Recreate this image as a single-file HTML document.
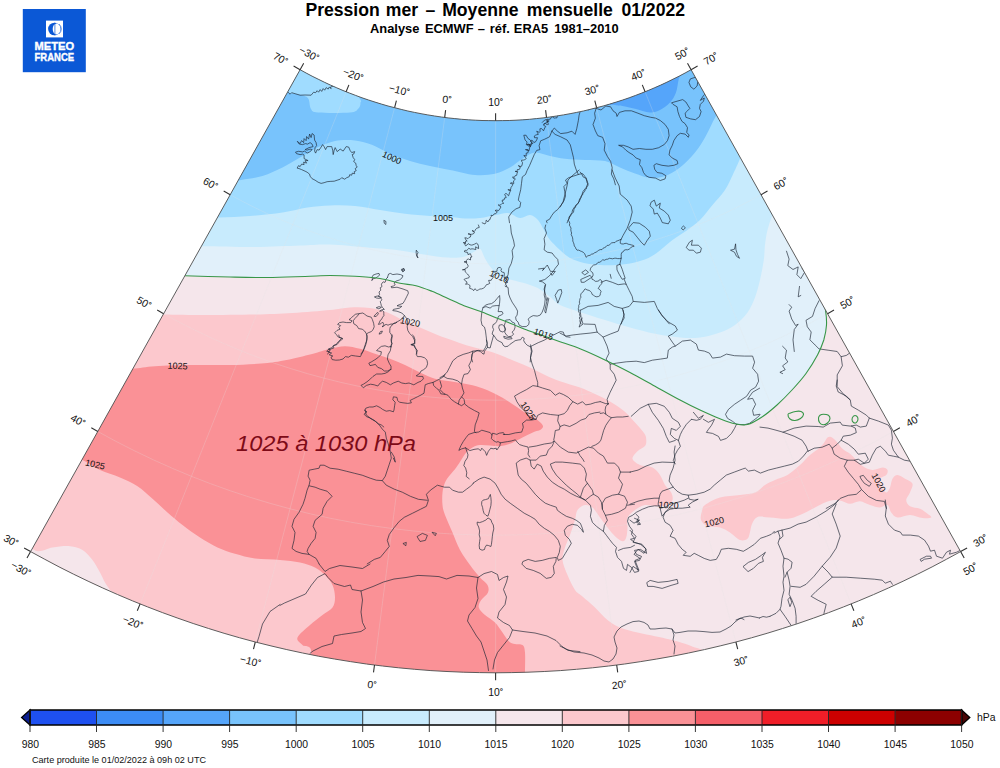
<!DOCTYPE html>
<html lang="fr"><head><meta charset="utf-8"><title>Pression mer – Moyenne mensuelle 01/2022</title>
<style>html,body{margin:0;padding:0;background:#fff}body{width:1000px;height:768px;position:relative;overflow:hidden}</style></head>
<body>
<svg width="1000" height="768" viewBox="0 0 1000 768" style="position:absolute;left:0;top:0">
<defs><clipPath id="fan"><path d="M300.1 69.7 L306.1 73 L312.1 76.2 L318.2 79.2 L324.3 82.2 L330.5 85.1 L336.7 87.8 L343 90.5 L349.3 93 L355.6 95.4 L362 97.8 L368.5 100 L375 102.1 L381.5 104.1 L388 106 L394.6 107.7 L401.2 109.4 L407.8 111 L414.5 112.4 L421.1 113.7 L427.8 114.9 L434.6 116 L441.3 117 L448.1 117.9 L454.8 118.6 L461.6 119.3 L468.4 119.8 L475.2 120.2 L482 120.5 L488.8 120.6 L495.6 120.7 L502.4 120.6 L509.2 120.5 L516 120.2 L522.8 119.8 L529.6 119.3 L536.4 118.6 L543.1 117.9 L549.9 117 L556.6 116 L563.4 114.9 L570.1 113.7 L576.7 112.4 L583.4 111 L590 109.4 L596.6 107.7 L603.2 106 L609.7 104.1 L616.2 102.1 L622.7 100 L629.2 97.8 L635.6 95.4 L641.9 93 L648.2 90.5 L654.5 87.8 L660.7 85.1 L666.9 82.2 L673 79.2 L679.1 76.2 L685.1 73 L691.1 69.7 L960.6 551.6 L946.4 559.3 L932.1 566.9 L917.6 574.2 L903.1 581.2 L888.4 588 L873.5 594.6 L858.6 600.9 L843.6 606.9 L828.5 612.7 L813.3 618.2 L798 623.5 L782.6 628.5 L767.1 633.3 L751.5 637.8 L735.9 642 L720.2 645.9 L704.4 649.6 L688.6 653 L672.7 656.2 L656.8 659 L640.8 661.6 L624.7 664 L608.7 666 L592.6 667.8 L576.5 669.3 L560.3 670.6 L544.2 671.5 L528 672.2 L511.8 672.6 L495.6 672.8 L479.4 672.6 L463.2 672.2 L447 671.5 L430.9 670.6 L414.7 669.3 L398.6 667.8 L382.5 666 L366.5 664 L350.4 661.6 L334.4 659 L318.5 656.2 L302.6 653 L286.8 649.6 L271 645.9 L255.3 642 L239.7 637.8 L224.1 633.3 L208.6 628.5 L193.2 623.5 L177.9 618.2 L162.7 612.7 L147.6 606.9 L132.6 600.9 L117.7 594.6 L102.8 588 L88.1 581.2 L73.6 574.2 L59.1 566.9 L44.8 559.3 L30.6 551.6Z"/></clipPath></defs>
<g clip-path="url(#fan)">
<path d="M300.1 69.7 L306.1 73 L312.1 76.2 L318.2 79.2 L324.3 82.2 L330.5 85.1 L336.7 87.8 L343 90.5 L349.3 93 L355.6 95.4 L362 97.8 L368.5 100 L375 102.1 L381.5 104.1 L388 106 L394.6 107.7 L401.2 109.4 L407.8 111 L414.5 112.4 L421.1 113.7 L427.8 114.9 L434.6 116 L441.3 117 L448.1 117.9 L454.8 118.6 L461.6 119.3 L468.4 119.8 L475.2 120.2 L482 120.5 L488.8 120.6 L495.6 120.7 L502.4 120.6 L509.2 120.5 L516 120.2 L522.8 119.8 L529.6 119.3 L536.4 118.6 L543.1 117.9 L549.9 117 L556.6 116 L563.4 114.9 L570.1 113.7 L576.7 112.4 L583.4 111 L590 109.4 L596.6 107.7 L603.2 106 L609.7 104.1 L616.2 102.1 L622.7 100 L629.2 97.8 L635.6 95.4 L641.9 93 L648.2 90.5 L654.5 87.8 L660.7 85.1 L666.9 82.2 L673 79.2 L679.1 76.2 L685.1 73 L691.1 69.7 L960.6 551.6 L946.4 559.3 L932.1 566.9 L917.6 574.2 L903.1 581.2 L888.4 588 L873.5 594.6 L858.6 600.9 L843.6 606.9 L828.5 612.7 L813.3 618.2 L798 623.5 L782.6 628.5 L767.1 633.3 L751.5 637.8 L735.9 642 L720.2 645.9 L704.4 649.6 L688.6 653 L672.7 656.2 L656.8 659 L640.8 661.6 L624.7 664 L608.7 666 L592.6 667.8 L576.5 669.3 L560.3 670.6 L544.2 671.5 L528 672.2 L511.8 672.6 L495.6 672.8 L479.4 672.6 L463.2 672.2 L447 671.5 L430.9 670.6 L414.7 669.3 L398.6 667.8 L382.5 666 L366.5 664 L350.4 661.6 L334.4 659 L318.5 656.2 L302.6 653 L286.8 649.6 L271 645.9 L255.3 642 L239.7 637.8 L224.1 633.3 L208.6 628.5 L193.2 623.5 L177.9 618.2 L162.7 612.7 L147.6 606.9 L132.6 600.9 L117.7 594.6 L102.8 588 L88.1 581.2 L73.6 574.2 L59.1 566.9 L44.8 559.3 L30.6 551.6Z" fill="#f5e6eb"/>
<path d="M150 274 C159.1 274.3 171.2 275.2 184.5 275.8 C197.8 276.2 216.2 276.7 230 277 C243.8 277.3 255 277.6 267.5 277.5 C280 277.4 294.6 276.8 305 276.5 C315.4 276.2 321.7 275.5 330 275.5 C338.3 275.5 346.7 275.8 355 276.2 C363.3 276.8 372.5 277.3 380 278.5 C387.5 279.7 394 282.1 400 283.3 C406 284.5 410.7 284.4 416 285.7 C421.3 287 426.7 289.2 432 291.3 C437.3 293.4 442.7 296.1 448 298.5 C453.3 300.9 458.7 303.6 464 305.7 C469.3 307.8 474.7 309.3 480 311.3 C485.3 313.3 490.7 315.6 496 317.7 C501.3 319.8 506.7 321.9 512 324 C517.3 326.1 522.7 328.5 528 330.5 C533.3 332.5 538.7 334.1 544 336 C549.3 337.9 554 339.6 560 341.7 C566 343.8 572.5 345.7 580 348.8 C587.5 351.8 596.7 356 605 360 C613.3 364 621.7 368.1 630 372.5 C638.3 376.9 646.7 381.7 655 386.2 C663.3 390.8 672.5 396 680 400 C687.5 404 693.3 406.9 700 410 C706.7 413.1 714.2 416.5 720 418.8 C725.8 421 730.4 422.8 735 423.8 C739.6 424.7 743 425.6 747.5 424.5 C752 423.4 757.1 420.2 762 417 C766.9 413.8 772 409.5 777 405 C782 400.5 787.2 395.2 792 390 C796.8 384.8 801.8 379.3 806 373.5 C810.2 367.7 814.5 360.6 817.5 355 C820.5 349.4 822.2 345 823.8 340 C825.2 335 826.2 330 826.5 325 C826.8 320 826.2 314.8 825.5 310 C824.8 305.2 817.9 300 822 296 C826.1 292 845.3 335.3 850 286 C854.7 236.7 975 47.7 850 0 C725 -47.7 220 -45.7 100 0 C-20 45.7 121.7 228.3 130 274 C138.3 319.7 140.9 273.7 150 274Z" fill="#e1f0fa"/>
<path d="M170 246 C178.8 246 188.3 246.1 202.5 246.2 C216.7 246.4 238.8 247.1 255 247 C271.2 246.9 287.5 245.9 300 245.5 C312.5 245.1 318.8 244.2 330 244.5 C341.2 244.8 355.8 246.5 367.5 247.5 C379.2 248.5 390.6 249.2 400 250.4 C409.4 251.6 416 253.2 424 254.4 C432 255.6 441.3 257.2 448 257.6 C454.7 258 459.7 257.7 464 256.8 C468.3 255.9 471 253.3 473.7 252 C476.4 250.7 478.1 247.7 480 248.8 C481.9 249.9 483.1 255.2 485 258.4 C486.9 261.6 488.9 265.1 491.3 268 C493.7 270.9 495.9 274 499.3 276 C502.8 278 507.7 278.8 512 280 C516.3 281.2 521 282.1 525 283.3 C529 284.5 532.8 285.9 536 287.3 C539.2 288.8 541.3 290.1 544 292 C546.7 293.9 549.3 296.3 552 298.5 C554.7 300.7 555.8 302.9 560 305 C564.2 307.1 570 308.8 577.5 311.2 C585 313.8 596.2 317.3 605 320 C613.8 322.7 621.7 325.2 630 327.5 C638.3 329.8 646.7 332.1 655 333.8 C663.3 335.4 672.5 336.9 680 337.5 C687.5 338.1 693.3 338.3 700 337.5 C706.7 336.7 714.2 334.6 720 332.5 C725.8 330.4 730.4 328.3 735 325 C739.6 321.7 744.2 317.1 747.5 312.5 C750.8 307.9 752.9 302.9 755 297.5 C757.1 292.1 758.5 286.2 760 280 C761.5 273.8 762.9 265.8 763.8 260 C764.6 254.2 764.4 250 765 245 C765.6 240 766.2 235 767.5 230 C768.8 225 770.4 220 772.5 215 C774.6 210 775.4 204.2 780 200 C784.6 195.8 796.7 223.3 800 190 C803.3 156.7 916.7 31.7 800 0 C683.3 -31.7 208.3 -41 100 0 C-8.3 41 138.3 205 150 246 C161.7 287 161.2 246 170 246Z" fill="#c8ebfd"/>
<path d="M190 218 C198.1 217.9 208.8 217.8 218.8 217.5 C228.8 217.2 239.4 216.8 250 216 C260.6 215.2 272.9 213.9 282.5 212.5 C292.1 211.1 299.6 208.7 307.5 207.5 C315.4 206.3 322.1 205.8 330 205.5 C337.9 205.2 346.7 205.2 355 206 C363.3 206.8 371.7 208.7 380 210 C388.3 211.3 396.7 212.8 405 213.8 C413.3 214.8 422.5 215.5 430 216 C437.5 216.5 444.2 216.6 450 217 C455.8 217.4 460 218.3 465 218.5 C470 218.7 474.8 218.6 480 218 C485.2 217.4 491.3 215.8 496 215 C500.7 214.2 504 212.5 508 213 C512 213.5 516.3 217.7 520 218 C523.7 218.3 527 214.7 530 215 C533 215.3 535.7 217.5 538 220 C540.3 222.5 542 226.7 544 230 C546 233.3 547.3 236.7 550 240 C552.7 243.3 556.7 247 560 250 C563.3 253 566 255.8 570 258 C574 260.2 579 261.8 584 263 C589 264.2 594.7 264.7 600 265 C605.3 265.3 610.6 265.3 616 265 C621.4 264.7 627.1 264.2 632.5 263 C637.9 261.8 643.8 260.2 648.5 258 C653.2 255.8 656.5 253 660.5 250 C664.5 247 668.2 243.2 672.5 240 C676.8 236.8 681.4 234.3 686 231 C690.6 227.7 695.6 224.3 700 220 C704.4 215.7 708.3 210 712.5 205 C716.7 200 721.2 195.8 725 190 C728.8 184.2 732.5 175.2 735 170 C737.5 164.8 738.2 162.9 740 158.8 C741.8 154.6 741 149 746 145 C751 141 766 159.2 770 135 C774 110.8 881.7 22.5 770 0 C658.3 -22.5 200 -36.3 100 0 C0 36.3 155 181.7 170 218 C185 254.3 181.9 218.1 190 218Z" fill="#a0dcff"/>
<path d="M215 184 C222.7 183.3 233.1 181.3 241 180 C248.9 178.7 255.6 178.1 262.5 176 C269.4 173.9 276.2 170.6 282.5 167.5 C288.8 164.4 294.2 160.8 300 157.5 C305.8 154.2 311.7 150.2 317.5 147.5 C323.3 144.8 328.8 142.2 335 141 C341.2 139.8 348.8 139.8 355 140.5 C361.2 141.2 366.7 142.8 372.5 145 C378.3 147.2 383.8 151.1 390 153.8 C396.2 156.4 403.3 159 410 161 C416.7 163 423.3 164.5 430 166 C436.7 167.5 442.5 168.5 450 170 C457.5 171.5 467.5 174.4 475 175 C482.5 175.6 489.2 175 495 173.8 C500.8 172.5 505.4 170 510 167.5 C514.6 165 518.3 161.2 522.5 158.8 C526.7 156.2 530.4 153 535 152.5 C539.6 152 545 155 550 156 C555 157 559.2 158.1 565 158.8 C570.8 159.4 578.3 159.6 585 160 C591.7 160.4 599.2 159.8 605 161 C610.8 162.2 615 165.4 620 167.5 C625 169.6 630 171.8 635 173.5 C640 175.2 645 177.6 650 178 C655 178.4 660 177.8 665 176 C670 174.2 675 171.4 680 167.5 C685 163.6 690.8 157.5 695 152.5 C699.2 147.5 702.1 142.5 705 137.5 C707.9 132.5 710.7 126.1 712.5 122.5 C714.3 118.9 714.4 119.1 716 116 C717.6 112.9 718 107.7 722 104 C726 100.3 737 111.3 740 94 C743 76.7 846.7 15.7 740 0 C633.3 -15.7 190.8 -30.7 100 0 C9.2 30.7 175.8 153.3 195 184 C214.2 214.7 207.3 184.7 215 184Z" fill="#78c3fc"/>
<path d="M600 100 C602.5 107.5 611.2 104 615 105 C618.8 106 619.2 105.4 622.5 106 C625.8 106.6 630.4 107.7 635 108.8 C639.6 109.8 645.8 112.3 650 112.5 C654.2 112.7 656.7 111.7 660 110 C663.3 108.3 667.3 105.4 670 102.5 C672.7 99.6 674.5 96.5 676 92.5 C677.5 88.5 677.8 82.8 678.8 78.8 C679.8 74.7 685.1 74.5 682 68 C678.9 61.5 673.7 41.3 660 40 C646.3 38.7 610 50 600 60 C590 70 597.5 92.5 600 100Z" fill="#55a5fa"/>
<path d="M280 60 C290 54.5 317 54 330 60 C343 66 352.9 88.8 358 96 C363.1 103.2 360.5 100.8 360.5 103 C360.5 105.2 359.8 107.4 358 109 C356.2 110.6 356.7 111.9 350 112.5 C343.3 113.1 324.5 113.1 318 112.5 C311.5 111.9 312.6 111.2 311 109 C309.4 106.8 309.8 101.2 308.5 99 C307.2 96.8 306.4 96.5 303 95.5 C299.6 94.5 293.5 93.4 288 93 C282.5 92.6 271.3 98.5 270 93 C268.7 87.5 270 65.5 280 60Z" fill="#a0dcff"/>
<path d="M140 314 C167.3 314.1 152.9 314.3 163.8 314.5 C174.6 314.7 189.8 315 205 315 C220.2 315 240.4 314.8 255 314.5 C269.6 314.2 280 313.8 292.5 313 C305 312.2 320.4 310.9 330 310 C339.6 309.1 343.3 307.8 350 307.5 C356.7 307.2 363.8 307.2 370 308 C376.2 308.8 382.1 310.5 387.5 312.5 C392.9 314.5 397.1 317.5 402.5 320 C407.9 322.5 414.2 325 420 327.5 C425.8 330 431.7 332.7 437.5 335 C443.3 337.3 449.6 339.4 455 341.2 C460.4 343.1 465 344.8 470 346.2 C475 347.7 480 348.5 485 350 C490 351.5 495 353.1 500 355 C505 356.9 510 359.2 515 361.2 C520 363.3 525 365.2 530 367.5 C535 369.8 540 372.7 545 375 C550 377.3 554.2 379.2 560 381.2 C565.8 383.3 574.2 385.4 580 387.5 C585.8 389.6 590 391.7 595 394 C600 396.3 605.2 398.7 610 401.5 C614.8 404.3 619.8 407.5 624 411 C628.2 414.5 631.7 418.8 635 422.5 C638.3 426.2 642.1 430.2 644 433 C645.9 435.8 646.1 436.8 646.2 439 C646.4 441.2 646.5 444 645 446 C643.5 448 639.6 449.1 637.5 451.2 C635.4 453.4 632.1 456.5 632.5 458.8 C632.9 461 636.7 463.5 640 465 C643.3 466.5 649.2 465.8 652.5 467.5 C655.8 469.2 657.9 472.1 660 475 C662.1 477.9 663.1 482.1 665 485 C666.9 487.9 670 490 671.2 492.5 C672.5 495 673.1 497.9 672.5 500 C671.9 502.1 670 504 667.5 505 C665 506 661.2 506.2 657.5 506.2 C653.8 506.2 648.8 504.4 645 505 C641.2 505.6 637.9 507.9 635 510 C632.1 512.1 628.8 514.6 627.5 517.5 C626.2 520.4 627.7 524.2 627.5 527.5 C627.3 530.8 627.1 535.2 626.2 537.5 C625.4 539.8 624.4 541.5 622.5 541.2 C620.6 541 617.5 538.5 615 536.2 C612.5 534 610 530.6 607.5 527.5 C605 524.4 602.5 520.8 600 517.5 C597.5 514.2 595 509.6 592.5 507.5 C590 505.4 587.5 504.6 585 505 C582.5 505.4 579.2 507.5 577.5 510 C575.8 512.5 576.2 515.8 575 520 C573.8 524.2 571.7 530.4 570 535 C568.3 539.6 566.2 543.3 565 547.5 C563.8 551.7 562.1 555.4 562.5 560 C562.9 564.6 565.4 570 567.5 575 C569.6 580 572.5 586.4 575 590 C577.5 593.6 579.2 593.6 582.5 596.5 C585.8 599.4 590.8 603.6 595 607.5 C599.2 611.4 603.3 616.7 607.5 620 C611.7 623.3 615 625.4 620 627.5 C625 629.6 631.7 631 637.5 632.5 C643.3 634 649.6 635.1 655 636.2 C660.4 637.4 665 638.2 670 639.5 C675 640.8 680.8 642.4 685 643.8 C689.2 645.1 692.1 646.5 695 647.5 C697.9 648.5 699.7 648.6 702.5 650 C705.3 651.4 710.4 644.3 712 656 C713.6 667.7 830.7 709.3 712 720 C593.3 730.7 118.7 787.7 0 720 C-118.7 652.3 -23.3 381.7 0 314 C23.3 246.3 112.7 313.9 140 314Z" fill="#fcc8cd"/>
<path d="M110 369.5 C122.1 356 125 369.3 132.5 368.8 C140 368.2 145 366.9 155 366.2 C165 365.6 180 365.2 192.5 365 C205 364.8 217.5 365.3 230 365 C242.5 364.7 257.1 364 267.5 363 C277.9 362 284.2 360.5 292.5 358.8 C300.8 357 311.2 354.2 317.5 352.5 C323.8 350.8 325.4 349.8 330 348.8 C334.6 347.7 340 346.2 345 346.2 C350 346.2 355 347.5 360 348.8 C365 350 370 352.1 375 353.8 C380 355.4 385 356.9 390 358.8 C395 360.6 400 362.7 405 365 C410 367.3 415 370.2 420 372.5 C425 374.8 430 377.3 435 378.8 C440 380.2 445 380.4 450 381.2 C455 382.1 460 382.7 465 383.8 C470 384.8 475 385.8 480 387.5 C485 389.2 490 391.2 495 393.8 C500 396.2 505 399.4 510 402.5 C515 405.6 520.4 409.6 525 412.5 C529.6 415.4 534.5 417.8 537.5 420 C540.5 422.2 542.6 424.3 543 426 C543.4 427.7 541.3 429.1 540 430 C538.7 430.9 537.5 430.5 535 431.5 C532.5 432.5 527.9 434.8 525 436.2 C522.1 437.7 520 438.8 517.5 440 C515 441.2 512.9 442.7 510 443.8 C507.1 444.8 503.3 446 500 446.2 C496.7 446.5 493.3 445.7 490 445.5 C486.7 445.3 482.9 444.7 480 445 C477.1 445.3 474.8 446.2 472.5 447.5 C470.2 448.8 468.1 450.4 466.2 452.5 C464.4 454.6 462.9 457.5 461.2 460 C459.6 462.5 458.1 465 456.2 467.5 C454.4 470 451.9 472.5 450 475 C448.1 477.5 446.2 479.6 445 482.5 C443.8 485.4 442.9 488.8 442.5 492.5 C442.1 496.2 442.1 501.2 442.5 505 C442.9 508.8 443.3 510.4 445 515 C446.7 519.6 450 526.7 452.5 532.5 C455 538.3 457.1 544.6 460 550 C462.9 555.4 466.7 560.4 470 565 C473.3 569.6 477.1 574.2 480 577.5 C482.9 580.8 486.2 582.5 487.5 585 C488.8 587.5 489 590 488 592.5 C487 595 482.8 597.5 481.2 600 C479.7 602.5 478.1 605 478.8 607.5 C479.4 610 482.3 612.5 485 615 C487.7 617.5 492.1 619.6 495 622.5 C497.9 625.4 500.2 629.4 502.5 632.5 C504.8 635.6 506.7 639.3 508.8 641.2 C510.8 643.2 512.7 643.4 515 644 C517.3 644.6 520.8 643.6 522.5 645 C524.2 646.4 524.6 647.9 525 652.5 C525.4 657.1 525 664.6 525 672.5 C525 680.4 562.5 695.4 525 700 C487.5 704.6 335.6 707.8 300 700 C264.4 692.2 310.8 662.2 311.2 653 C311.7 643.8 304.8 647.6 302.5 645 C300.2 642.4 296.2 640.8 297.5 637.5 C298.8 634.2 305.8 628.8 310 625 C314.2 621.2 318.8 617.9 322.5 615 C326.2 612.1 330.4 610.4 332.5 607.5 C334.6 604.6 335 601.2 335 597.5 C335 593.8 334.2 588.8 332.5 585 C330.8 581.2 327.9 577.9 325 575 C322.1 572.1 319.2 569.6 315 567.5 C310.8 565.4 305.8 563.8 300 562.5 C294.2 561.2 287.5 560.7 280 560 C272.5 559.3 262.5 559.5 255 558.5 C247.5 557.5 241.2 555.6 235 553.8 C228.8 551.9 223.3 550.2 217.5 547.5 C211.7 544.8 205.8 541.2 200 537.5 C194.2 533.8 187.9 529.2 182.5 525 C177.1 520.8 172.5 516.9 167.5 512.5 C162.5 508.1 157.5 503.1 152.5 498.8 C147.5 494.4 142.9 489.8 137.5 486.2 C132.1 482.7 126.2 480.2 120 477.5 C113.8 474.8 106.2 472.9 100 470 C93.8 467.1 89.2 463.3 82.5 460 C75.8 456.7 55.4 465.1 60 450 C64.6 434.9 97.9 383 110 369.5Z" fill="#fa9196"/>
<path d="M20 545 C22.9 536.9 32.1 550.8 37.5 551.2 C42.9 551.7 47.1 548.3 52.5 547.5 C57.9 546.7 65 545.8 70 546.2 C75 546.7 78.8 547.7 82.5 550 C86.2 552.3 89.6 556.2 92.5 560 C95.4 563.8 97.9 568.8 100 572.5 C102.1 576.2 103.3 579.6 105 582.5 C106.7 585.4 108.2 587.1 110 590 C111.8 592.9 131 598.3 116 600 C101 601.7 36 609.2 20 600 C4 590.8 17.1 553.1 20 545Z" fill="#f5e6eb"/>
<path d="M701 520 C700.1 517.5 701.3 513.5 702 511 C702.7 508.5 702 507.2 705 505 C708 502.8 714.2 499.2 720 497.5 C725.8 495.8 734.2 495.8 740 495 C745.8 494.2 750.8 494.2 755 492.5 C759.2 490.8 761.7 487.1 765 485 C768.3 482.9 771.2 481.7 775 480 C778.8 478.3 783.3 477.5 787.5 475 C791.7 472.5 796.2 468.3 800 465 C803.8 461.7 806.7 457.9 810 455 C813.3 452.1 817.5 449.8 820 447.5 C822.5 445.2 823.8 442.9 825 441.2 C826.2 439.6 826.5 438.2 827.5 437.5 C828.5 436.8 829.6 436.4 831 437 C832.4 437.6 834.1 439 836 441 C837.9 443 840.2 446.6 842.5 448.8 C844.8 450.9 847.9 452.1 850 453.8 C852.1 455.4 852.9 456.7 855 458.8 C857.1 460.8 859.6 464.1 862.5 466 C865.4 467.9 869.2 469.8 872.5 470 C875.8 470.2 880 467.5 882.5 467.5 C885 467.5 886.9 468.8 887.5 470 C888.1 471.2 887.5 473.5 886.2 475 C885 476.5 880.8 476.9 880 478.8 C879.2 480.6 880.2 484 881.2 486.2 C882.3 488.5 884.8 492.3 886.2 492.5 C887.7 492.7 889 489.8 890 487.5 C891 485.2 891.2 480.8 892.5 478.8 C893.8 476.7 895.4 475 897.5 475 C899.6 475 902.5 477.3 905 478.8 C907.5 480.2 911.7 481.5 912.5 483.8 C913.3 486 911 489.8 910 492.5 C909 495.2 906.2 497.7 906.2 500 C906.2 502.3 907.7 504.8 910 506.2 C912.3 507.7 917.1 507.5 920 508.8 C922.9 510 925.6 512.3 927.5 513.8 C929.4 515.2 932.1 516.8 931.2 517.5 C930.4 518.2 926 518.4 922.5 518 C919 517.6 914.2 515.1 910 515 C905.8 514.9 900.6 517.9 897.5 517.5 C894.4 517.1 892.9 514.6 891.2 512.5 C889.6 510.4 889.4 505.8 887.5 505 C885.6 504.2 882.9 507.5 880 507.5 C877.1 507.5 873.3 506 870 505 C866.7 504 863.3 501.5 860 501.2 C856.7 501 852.9 503.8 850 503.8 C847.1 503.8 845 501.9 842.5 501.2 C840 500.6 837.9 499.8 835 500 C832.1 500.2 828.3 501.2 825 502.5 C821.7 503.8 819.2 505.4 815 507.5 C810.8 509.6 804.6 513.1 800 515 C795.4 516.9 792.5 518.3 787.5 518.8 C782.5 519.2 775 517.8 770 517.5 C765 517.2 760.5 515.9 757.5 517 C754.5 518.1 753.2 521.5 752 524 C750.8 526.5 750.8 529.5 750 532 C749.2 534.5 749.2 537.4 747.5 538.8 C745.8 540.1 742.9 541 740 540 C737.1 539 733.3 534.6 730 532.5 C726.7 530.4 723.8 528.5 720 527.5 C716.2 526.5 710.7 527.5 707.5 526.2 C704.3 525 701.9 522.5 701 520Z" fill="#fcc8cd"/>
<path d="M140.1 603.9 L346.1 91.8 M255.3 642 L394.6 107.7 M374.5 665 L444.7 117.4 M495.6 672.8 L495.6 120.7 M616.7 665 L546.5 117.4 M735.9 642 L596.6 107.7 M851.1 603.9 L645.1 91.8 M97.8 431.5 L116 441.4 L134.5 450.8 L153.3 459.8 L172.3 468.3 L191.4 476.3 L210.8 483.8 L230.4 490.8 L250.1 497.3 L270 503.3 L290 508.8 L310.2 513.8 L330.5 518.3 L350.9 522.2 L371.4 525.6 L392 528.5 L412.6 530.9 L433.3 532.8 L454.1 534.1 L474.8 534.9 L495.6 535.2 L516.4 534.9 L537.1 534.1 L557.9 532.8 L578.6 530.9 L599.2 528.5 L619.8 525.6 L640.3 522.2 L660.7 518.3 L681 513.8 L701.2 508.8 L721.2 503.3 L741.1 497.3 L760.8 490.8 L780.4 483.8 L799.8 476.3 L818.9 468.3 L837.9 459.8 L856.7 450.8 L875.2 441.4 L893.4 431.5 M163.6 313.7 L178.9 322 L194.3 329.8 L210 337.3 L225.8 344.4 L241.8 351.1 L258 357.4 L274.3 363.2 L290.8 368.6 L307.3 373.6 L324.1 378.2 L340.9 382.4 L357.8 386.1 L374.9 389.4 L392 392.3 L409.1 394.7 L426.4 396.7 L443.6 398.2 L460.9 399.3 L478.3 400 L495.6 400.2 L512.9 400 L530.3 399.3 L547.6 398.2 L564.8 396.7 L582.1 394.7 L599.2 392.3 L616.3 389.4 L633.4 386.1 L650.3 382.4 L667.1 378.2 L683.9 373.6 L700.4 368.6 L716.9 363.2 L733.2 357.4 L749.4 351.1 L765.4 344.4 L781.2 337.3 L796.9 329.8 L812.3 322 L827.6 313.7 M230.2 194.7 L242.4 201.3 L254.7 207.6 L267.2 213.6 L279.9 219.3 L292.7 224.6 L305.6 229.6 L318.7 234.3 L331.8 238.6 L345.1 242.7 L358.5 246.3 L371.9 249.6 L385.5 252.6 L399.1 255.3 L412.7 257.5 L426.5 259.5 L440.2 261.1 L454 262.3 L467.9 263.2 L481.7 263.7 L495.6 263.9 L509.5 263.7 L523.3 263.2 L537.2 262.3 L551 261.1 L564.7 259.5 L578.5 257.5 L592.1 255.3 L605.7 252.6 L619.3 249.6 L632.7 246.3 L646.1 242.7 L659.4 238.6 L672.5 234.3 L685.6 229.6 L698.5 224.6 L711.3 219.3 L724 213.6 L736.5 207.6 L748.8 201.3 L761 194.7" fill="none" stroke="rgb(228,228,228)" stroke-opacity="0.26" stroke-width="0.9"/>
<path d="M297.6 141.6 L300.1 143.6 L301.6 140.6 L303.6 142.6 L304.1 138.6 L306.1 140.6 L306.6 136.5 L308.6 139.1 L309.6 134 L311.1 137.6 L312.1 133.5 L314.1 135 L314.6 140.1 L316.1 142.6 L316.6 145.6 L315.1 147.6 L314.6 151.1 L315.6 153.1 L317.1 149.6 L319.1 150.1 L321.1 147.1 L322.6 144.6 L324.1 146.6 L325.6 149.6 L327.1 146.6 L331.7 146.6 L332.7 150.1 L333.2 154.6 L334.2 150.1 L335.2 147.6 L337.2 151.6 L340.2 149.1 L343.2 151.1 L346.2 146.6 L348.7 147.1 L350.2 150.6 L351.7 152.6 L354.7 151.6 L353.7 154.1 L352.2 154.6 L353.2 157.6 L354.7 159.6 L353.7 161.6 L355.7 163.1 L356.2 165.6 L357.2 167.1 L355.2 168.6 L356.2 170.7 L354.2 171.7 L354.7 173.7 L352.2 173.2 L351.7 175.2 L349.7 174.7 L349.2 176.7 L346.7 177.7 L344.7 179.2 L341.7 177.7 L340.2 179.2 L337.2 180.2 L334.2 181.2 L330.2 181.4 L327.1 181.7 L324.1 182.7 L321.1 183.4 L318.1 182.2 L315.1 180.2 L312.1 178.7 L310.1 176.2 L309.6 174.2 L307.1 172.2 L305.1 171.2 L301.6 169.6 L299.1 168.6 L297.1 168.1 L298.6 165.6 L300.1 166.6 L301.6 164.1 L304.1 164.6 L303.6 162.1 L306.6 163.1 L305.1 160.6 L308.1 160.6 L304.1 158.6 L304.1 155.1 L302.6 154.1 L300.1 154.6 L296.5 153.6 L295.5 152.1 L298.6 151.3 L302.6 151.9 L304.6 151.1 L307.1 153.1 L309.6 152.1 L312.1 149.6 L310.1 149.1 L307.1 150.1 L305.1 149.6 L309.1 147.6 L313.1 146.6 L312.1 144.1 L310.1 142.6 L307.6 144.1 L305.6 143.6 L302.6 144.6 L299.6 144.1Z M287.6 91.7 L290.1 94.2 L291.6 92.7 L295.1 93.7 L300.1 95.2 L305.1 95 L311.1 95.2 L313.6 92.2 L315.6 92.7 L317.1 90.7 L318.6 92.2 L320.2 89.6 L321.7 91.4 L323.2 88.6 L324.7 90.2 L326.2 87.6 L328.2 89.1 L329.2 87.1 L331.2 88.6 L330.4 87.1 L332.7 86.3 M387.4 277.6 L388.6 274 L390.4 273.4 L392.8 274.6 L397 274 L400.6 274.6 L403 275.8 L401.8 278.2 L399.4 280 L395.8 281.2 L394 283 L395.2 284.8 L393.4 286 L391 286.6 L391.6 287.8 L397 287.2 L403 289 L407.8 290.8 L408.4 293.2 L406.6 296.8 L404.8 300.4 L403 303.4 L399.4 304.6 L397 305.8 L401.8 306.4 L399.4 308.2 L393.4 309.4 L392.8 310.6 L397 311.2 L401.8 313 L404.2 315.4 L406.6 318.4 L407.8 322 L407.2 326.8 L407.8 330.4 L409.6 333.4 L412.6 336.4 L414.4 340 L415 343.6 L411.4 344.8 L414.4 346 L416.2 349.6 L416.8 354 M387.4 277.6 L385.6 279.4 L385.7 281 L385 282.4 L383.2 281.8 L382.2 283 L381.4 284.2 L382 286.6 L380.2 287.8 L380.8 290.2 L379 292 L379.6 294.4 L378.4 296.2 L379.7 296.9 L380.8 298 L382 299.8 L380.2 301.6 L380.8 303.4 L381.4 305.8 L382.6 307.6 L384.4 309.4 L382.9 309.5 L381.4 310 L379.6 311.2 L381.1 311.1 L382.6 310.6 L383.8 311.8 L383.8 313.6 L383.9 315.6 L382.6 317.2 L381.4 319.6 L380.1 320.5 L379.6 322 L378.4 324.4 L380.8 323.8 L382.6 322 L383.8 324.4 L383.2 325.8 L382 326.8 L383.8 326.2 L384.7 325 L386.2 324.4 L388 325.2 L389.8 324.4 L391.2 324 L392.8 324.1 L394 323.2 L395.5 322.6 L397 322 L395.8 323.2 L393.9 323.6 L392.2 324.4 L391.7 325.9 L390.4 326.8 L389.9 328.6 L389.8 330.4 L389.8 332.4 L391 334 L392.2 336.4 L391.9 338.2 L391.6 340 L391.5 341.9 L392.2 343.6 L391.3 345.3 L391 347.2 M397 322 L400 320.2 L402.4 318.4 L404.4 315.6 M371.8 277.6 L373 275.2 L376 274 L379 273.4 L379.6 275.2 L377.2 277 L375.4 278.2 L373 278.8 L371.8 280.6 L372.4 278.8Z M401.8 269.2 L403.6 268.6 L404.4 270.4 L403 271.4 L401.8 270.6Z M374.8 296.8 L377.2 296 L379.6 296.6 L381.4 297.5 L379 298.4 L376.6 298Z M376.6 307.6 L379 306.6 L381.4 307.4 L379.2 308.6Z M374.2 316 L376 313.8 L377.8 312.4 L378.4 313.8 L376.4 316.2Z M379.2 333.8 L380.4 331.6 L382.4 331.1 L381.6 333Z M361 354 L362.8 351.4 L364 348.4 L365.2 344.8 L366.4 341.2 L367 337 L366.4 334 L368.2 332.8 L371.2 331.6 L373 329.8 L374.2 326.8 L373.6 323.2 L372.4 319.6 L371.2 317.2 L367 316 L364.6 314.2 L362.8 313 L359.2 313.6 L355.6 314.2 L353.2 316 L350.8 318.4 L349 319.6 L352 320.8 L350.8 322.6 L346.6 322.6 L343 322 L339.4 322.6 L337.6 324.4 L340.6 325.6 L338.8 327.4 L340 329.2 L337 330.4 L334.6 332.8 L336.4 334.6 L338.2 337 L341.8 338.2 L340 340 L338.2 341.8 L335.8 344.8 L332.8 346 L334 347.8 L331 349 L328 349.6 L326.8 351.4 L329.8 352 L327.4 354 M359.2 313.8 L357.4 316 L355 318.4 L353.2 320.8 L353.8 323.8 L356.8 325.6 L358.6 328.6 L362.2 329.2 L364.6 331 L366.4 333.8 M367 335 L367 339.8 L365.8 344.6 L364 349.4 L361.6 354.2 L360.4 356.6 L355.6 356 L351.4 355.4 L348.4 357.2 L345.4 356.6 L343 359 L339.4 360 L335.8 360.2 L332.2 359.6 L331 357.2 L332.8 356 L329.2 354.8 L331.6 353 L328 351.8 L330.4 350 L328.6 348.8 L332.2 347.6 L334 345.2 L337 344.6 L339.4 341.6 L343 338.6 L339.4 337.4 L338.8 335 M392.2 335 L391 339.8 L391.6 343.4 L391 346.4 L388.6 347 L385 345.8 L381.4 346.4 L379 348.2 L376.6 350.6 L379 351.2 L381.4 351.8 L380.8 354.8 L377.8 357.8 L374.2 360.2 L371.2 362 L368.8 363.2 L370 365.6 L373 365 L375.4 364.4 L377.8 367.4 L381.4 368.6 L384.4 371 L387.4 371 L391 369.2 L388.6 371.6 L385 373.4 L381.4 374 L376.6 374 L373 376.4 L370.6 378.8 L367 381.8 L363.4 384.2 L361 385.4 L363.4 387.8 L366.4 385.4 L370.6 384.2 L374.2 384.8 L377.8 386 L380.2 383 L382.6 381.2 L386.2 382.4 L390.4 384.8 L393.4 383 L398.2 381.2 L401.8 383 L405.4 383.6 L409 383 L413.8 384.8 L418 382.4 L421 381.2 L423.4 378.8 L422.8 376.4 L418.6 376.4 L416.2 375.8 L419.8 373.4 L421 371 L423.4 369.8 L426.4 367.4 L427.6 363.8 L427 360.2 L424.6 357.8 L421 356.6 L417.4 356.6 L416.2 354.2 L417.4 350.6 L415 347.6 L414.4 345.2 L410.8 344.6 L414.4 343.4 L415 339.8 L413.8 336.2 L412.6 335 M391 346.4 L390.4 350.6 L388 354.8 L387.4 359 L389.2 363.2 L391 366.2 L391 369.2 M445 374.6 L443.8 376.4 L440.2 378.8 L436.6 380.6 L433 382.4 L428.2 383.6 L425.2 384.8 L424.6 389 L424 393.2 L421 395 L417.4 396.8 L413.8 398.6 L410.2 400.4 L411.4 402.8 L407.8 403.4 L403 402.8 L399.4 402.2 L397.6 400.4 L397 397.4 L393.4 396.8 L392.8 399.8 L395.2 402.2 L394.6 405.8 L394 410 L393.4 411.8 L389.8 410.6 L386.2 411.2 L382.6 409.4 L380.2 407.6 L376.6 405.8 L373 407 L369.4 407 L365.8 408.2 L364.6 410.6 L367 411.8 L364 414.2 L366.4 416.6 L369.4 417.8 L372.4 419.6 L375.4 421.4 L378.4 423.8 L381.4 425 L383.8 427 M433 382.4 L433.6 385.4 L436.6 388.4 L439 390.2 L440.8 393.8 L445 394.4 M478.4 225 L479.3 227.4 L476.8 228.2 L475.8 229.1 L475 230.6 L474 231.6 L472 230.6 L473.8 231.2 L474.4 233 L472.9 234 L471.3 234.3 L469.7 234.5 L468 233.8 L470.1 233.9 L470.9 235 L470.4 237 L469.1 237.4 L467.8 238.8 L466.3 237.9 L464.8 237.8 L465.5 239 L466.1 240.2 L467.2 241 L465.7 241 L465.2 243.6 L463.2 242.6 L465.3 242.7 L464.9 244.7 L465.6 245.8 L467 245 L468.2 243.6 L470 244.8 L471.6 245.1 L473 244.8 L474.4 244.2 L476.4 243.2 L477.6 243.9 L478.4 245.8 L478.6 248.6 L475.6 246.8 L475.8 249.6 L473.6 249 L472 248.8 L470.3 249.2 L468.8 248.2 L467.9 249.4 L466.8 250.4 L465.1 250.4 L464 251.4 L465.7 252.1 L467.6 252.4 L468 254.6 L470.4 253.7 L471.1 255.5 L472 257 L470.6 257.1 L470.5 260 L468.5 259 L467.2 259.4 L466.4 260.5 L466.2 262.5 L464 261.8 L466.4 261.5 L466.8 263.8 L468 265 L468 266.7 L467.3 267.8 L465.6 268.2 L464.4 269.8 L462.4 269.8 L465.1 269.3 L465.2 271.9 L466.4 273 L467.5 274 L468.2 275.1 L469.4 276.1 L468.8 277.9 L467.2 278.2 L465.5 278.7 L464 279.5 L465.2 280.8 L467.1 282 L465.6 284.3 L468 283.9 L469 284.9 L470.1 285.7 L469.6 288.3 L471.1 288.8 L472.6 289.3 L473.6 290.7 L474.9 288.7 L476.9 290.6 L478.4 289.9 L479.9 289 L481.7 288.9 L483.2 288.3 L484.6 287.4 L485.5 286.1 L486.4 284.7 L488 284.3 L489.7 283.4 L488.6 280.4 L491.2 280.3 L491.9 278.8 L493.2 277.7 L492.9 275.6 L494.5 274.6 L495.4 273.7 L494.6 271.4 L496.9 271.4 L497.1 269.4 L497.8 267.8 L500.1 267.4 L501.6 268.8 L500.9 270.6 L501.8 272 L504.1 272.5 L504.4 274.2 L504.1 276.2 L504.3 277.9 L506.5 279 L505.7 281.1 L507.7 282.3 L505 283.9 L506.6 285.2 L506 286.7 M510.5 225 L511.3 233 L513.7 241 L514.5 245.8 L512.1 250.6 L512.9 257 L511.3 263.4 L508.9 268.2 L508.1 274.6 L505.7 280.7 M545.7 225 L544.9 228.2 L546.5 233 L544.1 238.6 L544.9 244.2 L544.1 249.8 L547.3 252.2 L552.1 253 L554.5 256.2 L557.7 259.4 L558.5 264.2 L555.3 268.2 L552.1 273 L548.9 276.2 L544.9 279.5 L539.3 281.1 L542.5 281.9 L545.7 284.3 L544.1 289.1 L545.7 295.5 L546.5 300.3 M538.5 269 L544.1 268.2 L542.5 270.6 L547.3 265 L550.5 271.4 L555.3 271.4 L552.1 275.4 L550.5 273 M505.1 286 L508.1 287.5 L508.6 294 L510.1 298 L512.1 302.1 L514.1 305.1 L516.1 308.1 L517.6 311.1 L517.1 315.1 L515.6 317.1 L516.1 320.1 L518.1 322.1 L519.1 325.1 L522.2 326.6 L526.2 326.6 L528.7 324.6 L529.2 321.6 L528.2 319.1 L530.2 317.1 L533.2 315.6 L537.2 316.1 L540.2 315.1 L542.2 312.1 L543.7 308.1 L544.7 304.1 L545.2 299 L544.2 295 L544.7 290 L545.2 285 M547.7 298 L546.2 304.1 L544.7 311.1 L545.7 313.1 L547.2 306.1 L548.7 299Z M555.3 295 L558.3 290 L561.3 289.5 L561.8 292.5 L559.8 298 L557.8 303.1 L556.8 300Z M472.5 361.9 L471.5 358.2 L472 354.2 L474 352.2 L477 350.7 L480 351.2 L482 353.2 L484 354.2 L484.5 351.2 L486 349.2 L487.6 347.2 L487.1 343.2 L486.5 339.2 L486 335.2 L485.5 331.1 L484.5 327.1 L482 325.1 L481 320.1 L481.5 315.1 L482 311.1 L483 307.6 L485.5 305.1 L488.6 304.1 L491.6 303.6 L494.6 301.5 L497.1 298.5 L499.6 295.5 L499.9 299 L499.6 303.1 L499.1 305.6 L498.6 309.1 L498.1 311.6 L502.1 311.6 L503.1 313.6 L501.1 315.1 L498.6 316.1 L497.6 318.6 L496.6 321.6 L495.1 323.6 L493.1 324.6 L492.6 327.1 L493.6 329.6 L492.6 332.1 L492.1 334.1 L493.6 335.2 L495.1 337.2 L496.6 339.7 L499.1 341.2 L502.1 342.7 L503.1 345.2 L505.1 346.7 L508.1 346.2 L510.1 344.2 L513.1 342.2 L515.1 340.7 L518.1 340 L520.7 339.7 L522.2 337.2 L524.2 338.2 L523.7 340.7 L525.2 343.2 L527.2 345.2 L530.2 346.7 L532.2 345.7 L538.2 342.7 L544.2 340.2 L549.2 337.2 L553.2 335.2 L557.3 333.1 L560.3 331.6 L563.3 332.1 L564.3 335.2 L566.3 336.7 L570 337.2 M483 307.6 L486 306.6 L490.1 308.1 L492.6 306.1 L496.1 305.6 L499.1 305.6 M487.6 347.4 L490.1 348 L493.6 335.2 M499.6 325.1 L502.1 324.6 L504.6 326.6 L505.1 330.1 L503.1 332.1 L500.1 331.1 L498.9 328.1Z M506.1 320.1 L510.1 319.6 L512.1 322.1 L514.6 323.1 L515.1 327.1 L514.1 330.1 L512.1 332.1 L513.6 334.1 L511.6 336.2 L508.6 336.7 L506.6 335.2 L504.6 332.1 L505.6 329.1 L504.1 326.1 L505.1 323.1Z M504.1 336.4 L507.1 337.4 L511.1 337.2 L512.1 338.7 L508.1 339.2 L504.6 338.2Z M530.7 347 L531.4 351.2 L530.8 355.2 L530.2 361.9 M557.5 115.2 L557 117.8 L555.6 117.9 L554.2 118.1 L552.2 116.7 L551.1 117.6 L550.4 119.1 L548.7 119.3 L548.7 121.9 L546.3 120.8 L547.7 121.4 L547.6 123.1 L548.7 124 L547.1 124.8 L545.5 123.4 L543.9 124 L543.7 125.4 L545.7 126.4 L544.7 128 L543.5 130.8 L541.5 128.5 L539.9 128.8 L540.1 131.3 L539.3 132.4 L536.7 131.2 L537.5 132.8 L538.3 134.4 L536.8 134.7 L535.5 135.2 L534.3 136 L534.5 137.7 L537.5 137.7 L536.7 140 L535.1 142.3 L533.5 142.2 L531.9 140 L530.6 141.1 L532.8 143.5 L530.3 144 L529.2 146.4 L527.1 144.8 L529.9 144.4 L530.6 145.5 L529.5 148 L529 150.8 L527.3 150.4 L525.5 149.6 L527.9 149.5 L528.3 150.9 L527.9 152.9 L526.2 153.1 L526.2 156.2 L523.9 155.3 L524.5 156.5 L525.5 157.4 L526.3 158.5 L524.9 159.6 L523.3 160.1 L521.5 160.1 L521.7 161.4 L522.5 162.6 L522.3 164.1 L521.6 166.2 L520.1 166.5 L518.3 165.7 L520.2 166.7 L520 168.1 L519.1 169.7 L517.4 169.5 L516.8 171.8 L515.1 171.3 L517.7 171.7 L517 173.6 L516.7 175.3 L515.2 175.6 L514.4 177.3 L512.7 176.9 L513.1 178.2 L515.4 179.1 L513.5 180.9 L513.8 183.5 L511.5 182.7 L510.3 183.3 L512.9 184.1 L512.3 185.7 L511.1 187.3 L510.7 189.1 L510.1 190.4 L507.9 189.7 L510.8 190.2 L509.5 192.9 L508.6 195.8 L506 193.3 L504.6 194.5 L505.6 196 L506.2 197.7 L504.6 197.9 L504 200 L502.2 200.1 L502.4 202 L503.8 203.3 L502.3 203.3 L501.2 204.5 L499.9 205.2 L498.2 204.9 L499.5 205.9 L501 206.9 L499.8 208.9 L498.6 210.6 L496.7 210.1 L495 210.5 L497.3 211.7 L495.8 213.7 L494.1 213.9 L492.9 215.6 L491 215.3 L491.3 216.7 L490.3 217.9 L490.2 219.3 L489 219.9 L488 221.9 L486.2 220.1 L485.9 222.4 L485 224 L482.2 222.8 M523.9 135.6 L525.1 140 L527.1 142 L526.3 144.8 L529 144 L530.3 146.8 L531.9 143.2 L530.3 140 L527.9 138.4 L526.3 135.6Z M542.3 122.4 L544.7 120 L547.9 119.2 L547.1 122.4 L543.9 124 M551.9 131.2 L549.5 136.8 L544.7 139.2 L540.7 140.8 L539.1 145.6 L539.9 149.6 L536.7 150.4 L534.3 154.5 L531.9 160.1 L529.5 165.7 L527.1 170.5 L525.5 174.5 L522.3 176.9 L521.5 183.3 L520.7 189.7 L519.1 196.1 L518.3 200.1 L520.7 202.5 L519.9 207.3 L515.9 208.9 L511.9 212.1 L508.7 216.9 L509.5 222.8 M551.9 131.2 L555.1 134.4 L560.7 136.8 L567.1 140 L570.3 144.8 L571.9 151.2 L573.5 157.7 L574.3 164.1 L575.9 168.9 L578.3 174.5 M551.9 131.2 L554.3 128 L557.5 131.2 L560.7 133.6 L567.1 132.8 L571.9 131.2 L575.1 134.4 L576.7 128.8 L578.3 120.8 L579.1 115.2 L579.9 112.5 M547.1 222.8 L546.3 220.9 L549.5 219.3 L551.9 215.3 L554.3 212.1 L557.5 209.7 L560.7 205.7 L563.9 200.9 L565.5 196.1 L564.7 191.3 L563.9 186.5 L567.1 183.3 L565.5 180.1 L568.7 177.7 L573.5 176.1 L578.3 174.5 L581.5 173.7 L583.1 176.9 L586.3 178.5 L587.9 183.3 L586.3 187.3 L583.1 191.3 L581.5 196.1 L579.9 200.1 L577.5 204.1 L574.3 207.3 L573.5 212.1 L570.3 215.3 L568.7 219.3 L567.1 222.8 M588.2 110 L592.2 107.6 L596.2 108.4 L601 110 L605.8 106 L610.6 106.8 L613 110.8 L616.2 113.2 L617 116.5 L619.4 112.4 L625 110.8 L631.4 110.8 L637.9 113.2 L644.3 115.7 L650.7 117.3 L655.5 118.1 L660.3 120.5 L665.1 124.5 L668.3 129.3 L669.1 135.7 L667.5 140.5 L664.3 144.5 L658.7 147.7 L652.3 149.3 L645.9 149.3 L639.5 148.5 L633 149.3 L628.2 146.9 L623.4 145.3 L618.6 145.3 L622.6 146.9 L625.8 150.1 L629 152.5 L633 154.9 L636.2 158.1 L640.3 159.7 L639.5 164.5 L641.9 167.7 L643.5 172.5 L645.9 175.7 L649.1 177.3 L655.5 178.1 L660.3 180.5 L665.1 178.9 L665.9 175.7 L661.9 173.3 L657.1 172.5 L654.7 169.3 L653.9 165.3 L656.3 163.7 L661.9 165.3 L668.3 166.1 L673.9 165.3 L677.9 163.7 L677.1 160.5 L672.3 158.1 L669.1 154.9 L669.9 150.1 L672.3 145.3 L673.9 140.5 L677.1 135.7 L680.3 133.3 L685.1 134.1 L688.3 137.3 L689.1 134.9 L686.7 132.5 L687.5 127.7 L685.1 123.7 L681.9 121.3 L679.5 116.5 L677.9 111.6 L677.1 106.8 L673.1 104.4 L671.5 102.8 L677.1 101.2 L682.7 99.6 L685.9 102 L688.3 106 L689.9 108.4 L687.5 110.8 L685.1 113.2 L685.9 117.3 L690.7 118.9 L695.5 119.7 L699.5 116.5 L701.1 111.6 L699.5 108.4 L700.3 104.4 L703.5 101.2 L704.3 98 L700.3 100.4 L703.5 95.6 L706.7 92.4 M690.7 78.8 L695.5 77.2 L697.9 81.2 L697.1 86 L693.9 89.2 L690.7 86.8 L689.1 82.8Z M596.2 108.4 L594.6 113.2 L595.4 118.1 L593 124.5 L595.4 130.9 L597.8 135.7 L602.6 137.3 L605 143.7 L604.2 150.1 L607.4 156.5 L610.6 161.3 L612.2 167.7 L611.4 174.1 L613.8 178.9 L615.4 184.8 M580.1 172 L581.1 173.3 L582.9 173.9 L583.9 175.4 L585.1 176.5 L586.1 178 L586.3 179.6 L586.8 181.1 L587.1 182.7 L588.1 184 L587.8 185.8 L586.7 187.1 L586.4 188.9 L585.1 190.1 L584.4 191.8 L583.1 193.1 L582.6 194.9 L581.1 196.1 L580.8 197.6 L579.7 198.8 L579.2 200.3 L579 201.8 L578.1 203.1 L577 204.3 L575.7 205.3 L575.6 207.3 L574 208.1 L572.9 209.4 L572.3 211 L572 212.7 L571 214.1 L570.7 215.9 L569 216.9 L569 218.7 L568 220.2 L569.2 221.6 L569.8 223.2 L569.4 225.1 L570.3 226.6 L571 228.2 L570.8 229.8 L571.1 231.4 L571.6 233 L571.2 234.7 L572 236.2 L572.6 237.8 L572.8 239.4 L572.8 241.1 L573.5 242.7 L574 244.2 L574.3 246 L575.4 247.3 L576 248.9 L577.1 250.2 L578.8 250.1 L580.2 250.9 L581.7 251.5 L583.1 252.2 L584.6 253.6 L585.4 255.4 L586.1 257.3 L587.8 255.8 L590.1 255.3 L591.5 254.2 L593.2 253.9 L594.5 252.8 L596.1 252.2 L597.4 251.3 L598.7 250.3 L600.2 249.6 L602 249.6 L603.1 248.2 L604.6 247.6 L606 246.8 L607.1 245.4 L608.9 245.3 L610.2 244.2 L611.4 243 L613.1 242.6 L615 242.6 L616.2 241.2 L617.9 240.7 L619.5 240 L621.2 239.2 L620.4 241.2 L620.2 243.2 L621.7 243.9 L623.3 244 L625 243.4 L626.7 243.4 L628.2 244.2 L629.8 244.5 L631.3 244.9 L632.8 245.3 L634.2 246.2 L632.2 246.7 L630.6 247.8 L629.2 249.2 L627.6 249.8 L625.8 249.7 L624.2 250.2 L623.3 251.7 L621.7 252.6 L621.2 254.3 L621.2 256.3 L621.2 258.3 L619.4 258.6 L617.7 258.6 L615.9 258.2 L614.2 258.3 L612.6 258.8 L610.9 258.5 L609.3 258.3 L607.8 259.2 L606.1 259.3 L604.7 260.2 L602.7 259.8 L601.3 261.1 L599.9 262.2 L598.1 262.3 L597 263.8 L595.4 264.7 L593.5 265.1 L592.1 266.3 L590.7 268.1 L590.1 270.3 L591.2 271.6 L592.6 272.6 L593.1 274.3 L592.9 276 L591.7 277.5 L592.1 279.3 L593.8 280 L595.2 281.3 L597.1 281.3 L598.9 280.8 L600.1 279.3 L601.7 281 L602.1 283.3 L600.9 284.4 L599.9 285.7 L599.1 287.1 L598.1 288.4 L599.8 289.6 L601.1 291.4 L600.4 293.3 L600.1 295.4 L598.3 296.6 L596.1 296.8 L594.7 296.1 L593.4 295.2 L592.1 294.4 L591.6 292.7 L590.5 291.4 L589.1 290.4 L587 289.9 L585.1 288.8 L584.1 290 L583.4 291.5 L582.1 292.4 L581 293.8 L580.6 295.4 L580.9 297.3 L580 298.7 L579.7 300.4 L579.3 302 L579.7 303.8 L578.7 305.4 L578.8 307.1 L578.3 308.7 L578.5 310.4 L578.7 311.9 L579.7 313.3 L579.5 314.9 L580.2 316.3 L579.2 318 L580.1 319.4 L579.9 321 L580.3 322.5 L581.1 323.9 M579.1 170 L572 176 L568 180 L567 186 L565 194.1 L563 202.1 L560 207.1 M612.2 170 L615.2 178 L619.2 186 L620.2 194.1 L627.2 200.1 L631.2 206.1 L632.2 212.1 L630.2 220.2 L627.2 228.2 L623.2 235.2 L621.2 239.2 M629.2 227.2 L633.2 222.6 L639.2 223.2 L645.3 227.2 L649.3 231.2 L650.3 236.2 L647.3 240.2 L644.3 245.2 L641.2 242.2 L637.2 237.2 L633.2 232.2 L629.2 230.2Z M651.3 202.1 L654.3 200.1 L656.3 206.1 L660.3 203.1 L659.3 208.1 L664.3 211.1 L668.3 215.1 L670.3 220.2 L668.3 223.8 L662.3 222.6 L660.3 218.1 L657.3 213.1 L654.3 214.1 L653.3 209.1 L650.3 206.1Z M681.6 227.8 L683.4 226 L685.4 227.8 L683.4 229.8Z M686.4 247.2 L689.4 242.2 L692.4 240.2 L691.4 245.2 L698.4 245.2 L701.4 248.2 L700.4 252.2 L696.4 253.2 L693.4 250.2 L689.4 250.2Z M735.5 244.2 L734.5 249.2 L730.5 250.2 L734.5 252.2 L736.5 256.3 L739.5 258.3 L737.5 254.3 L736.1 250.2Z M617.2 265.3 L620.2 264.3 L622.2 269.3 L623.8 274.3 L625.2 278.3 L622.2 279.3 L619.2 274.3 L617.2 270.3Z M582.1 272.3 L585.7 269.9 L588.5 272.3 L585.1 274.7Z M581.1 279.3 L590.1 275.3 L591.7 277.3 L584.1 282.3 L581.7 282.3Z M610.2 274.3 L611.2 278.3 M621.2 258.3 L619.8 264.3 M624.2 279.3 L626.2 284.3 L629.2 290.4 L632.2 296.4 L633.2 301.4 L644.3 302.4 L654.3 301.4 L657.3 308.4 L661.3 314.4 L666.3 320.5 L669.3 323.9 M601.1 282.3 L606.1 280.3 L612.2 282.3 L618.2 284.7 L624.2 283.9 L626.2 284.3 M580.1 310.4 L588.1 306.4 L598.1 305.4 L608.1 302.4 L614.2 306.4 L622.2 308.4 L629.2 306.4 L633.2 301.4 M622.2 308.4 L624.2 314.4 L622.2 320.5 L621.2 323.9 M580.1 310 L581.1 318 L583.1 324 L579.1 327.1 L582.1 318 M560 333.1 L566 336.1 L572 335.1 L580.1 334.1 L590.1 333.1 L597.1 332.1 M584.1 324 L595.1 324.4 L597.1 332.1 L603.1 337.1 L610.2 334.1 L618.2 331.1 L620.2 325 L624.2 318 L623.2 310 M603.1 337.1 L607.1 346.1 L609.1 353.1 L606.1 359.1 L610.2 364.2 L610.2 369.2 L614.2 374.2 L616.2 380.2 L613.2 386.2 L610.2 392.2 L607.1 399.3 L608.1 404.3 M610.2 364.2 L616.2 363.2 L626.2 361.8 L636.2 361.2 L644.3 362.6 L652.3 360.2 L660.3 359.1 L667.3 358.1 L668.3 350.1 L672.3 347.1 L675.3 346.1 M658.3 310 L662.3 316 L668.3 322 L675.3 326 L677.4 330.1 L672.3 334.1 L668.3 336.1 L672.3 342.1 L675.3 346.1 L682.4 341.1 L690.4 340.1 L696.4 344.1 L698.4 350.1 L704.4 351.1 L709.4 353.1 L712.5 358.1 L720.5 357.1 L726.5 354.1 L734.5 355.7 L744.6 356.1 L752.6 356.1 L754.6 362.2 L752.6 368.2 L757.6 374.2 L758.6 381.2 L755.6 387.2 L750.6 390.2 L746.6 396.3 L740.5 400.3 L734.5 404.3 L728.5 409.3 L725.5 414.3 L727.5 418.3 L732.5 421.3 L736.5 424.3 M759.6 388.2 L752.6 392.2 L747.6 399.3 L752.6 398.3 L755.6 404.3 L752.6 410.3 L753.6 415.3 L759.6 414.3 M691.4 419.3 L696.4 420.3 L700.4 419.3 L703.4 415.3 L698.4 418.3 L693.4 412.3 M703.4 419.3 L708.4 422.3 L714.5 419.3 L711.5 425.3 L708.4 429.4 L706.4 432.4 L712.5 433.4 L718.5 436.4 L720.5 440.4 L726.5 438.4 L731.5 433.4 L734.5 428.4 L736.5 424.3 L744.6 424.7 L749.6 423.3 L753.6 420.3 L757.6 417.3 L760 414.7 M631.2 416.3 L640.2 408.3 L648.3 404.3 L656.3 403.3 L664.3 406.3 L669.3 412.3 L672.3 418.3 L678.4 422.3 L680.4 426.3 L676.3 430.4 L671.3 428.4 L670.3 434.4 L674.3 438.4 L678.4 440.4 M648.3 404.3 L652.3 412.3 L658.3 420.3 L663.3 428.4 L666.3 436.4 L669.3 442.4 L675.3 440.4 M691.4 419.3 L686.4 424.3 L682.4 430.4 L680.4 434.4 L678.4 440.4 L680.4 446.4 L677.4 450.4 L675.3 454.4 L673.3 460.5 L675.3 463.9 M440 377.6 L443.2 376 L447.2 372 L449.6 367.2 L452.8 360.8 L457.6 356.8 L463.2 354.4 L468.8 352.8 L472.8 351.2 L478.4 350.4 L483.2 351.2 L485.6 347.2 L487.2 343.2 L486.4 340 M472.8 351.2 L472 356 L471.2 360.8 L468.8 365.6 L470.4 369.6 L468 373.6 L464 374.4 L462.4 379.2 L461.6 384 L462.4 388 L464 392.9 L461.6 396.9 L459.2 400.1 L458.4 404.1 L461.6 405.7 L464.8 403.3 L464 399.3 L461.6 396.9 M443.2 376 L447.2 378.4 L452.8 379.2 L457.6 380.8 L461.6 384 M440 380.8 L441.6 386.4 L440 389.6 L444 393.7 L448 395.3 L451.2 399.3 L454.4 401.7 L458.4 404.1 M464.8 404.1 L468.8 407.3 L474.4 410.5 L479.2 412.9 L477.6 418.5 L475.2 424.9 L474.4 431.3 L476 432.9 M503.3 434.5 L508.9 434.5 L515.3 432.9 L521.7 432.1 L523.3 427.3 L522.5 423.3 L526.5 420.1 L531.3 420.1 L536.1 419.3 L537.7 415.3 L542.5 412.9 L550.5 414.5 L558.5 415.3 L557.7 420.9 L560.1 426.5 L559.3 429.7 L555.3 430.5 L554.5 436.1 L553.7 440.1 M536.1 419.3 L528.9 416.9 L524.9 411.3 L520.1 406.5 L516.9 401.7 L514.5 396.1 L520.1 392.9 L526.5 389.6 L532.9 385.6 L537.7 386.4 L542.5 388 L550.5 390.4 L555.3 395.3 L559.3 392.9 L563.3 394.5 L568.1 397.2 L572.9 401.7 L569.7 405.7 L567.3 410.5 L564.1 413.7 L558.5 415.3 M530.5 344.8 L532.1 351.2 L530.5 357.6 L532.1 364 L534.5 370.4 L536.1 376.8 L537.7 382.4 L537.7 386.4 M572.9 401.7 L577.7 404.1 L582.5 401.7 L585.7 404.9 L590.5 404.1 L595.3 402.5 L600 401.7 M560.1 426.5 L564.1 424.9 L569.7 426.5 L576.1 423.3 L580.9 420.1 L585.7 418.5 L588.9 414.5 L594.5 412.9 L600 412.1 M365.2 410 L366.2 415 L370.2 418 L375.3 421 L379.3 425 L382.3 429.1 L385.3 432.1 L386.3 438.1 L388.3 444.1 L390.3 452.1 L391.3 458.1 L389.3 464.2 L387.3 470.2 L385.3 476.2 L382.3 480.6 L376.3 480.2 L370.2 478.2 L362.2 475.2 L354.2 473.2 L346.2 471.2 L338.1 469.2 L330.1 468.2 L324.1 465.2 L320.1 465.2 L319.1 468.2 L314.1 469.2 L309.1 470.2 L308.1 476.2 L310.1 480.2 L309.1 485.2 L307.1 490.2 L305 498.3 L303 504.3 L299 512.3 L294 519.3 L292 526.3 L295 532.4 L294 540.4 L292 548.4 L296 551.4 L302 553.4 L309.1 554.4 L316.1 558.4 L319.1 563.9 M391.3 452.1 L394.3 457.1 L395.3 462.2 L393.3 458.1 M309.1 485.8 L315.1 487.2 L320.1 489.2 L327.1 491.2 L332.1 496.3 L327.1 501.3 L323.1 508.3 L322.1 514.3 L315.1 520.3 L313.1 526.3 L316.1 532.4 L315.1 538.4 L311.1 543.4 L308.1 548.4 L307.1 551.4 L309.1 554.4 M382.3 480.6 L386.3 485.2 L394.3 489.2 L402.3 492.2 L410.4 496.3 L418.4 499.3 L427.4 500.3 M367.2 563.9 L374.3 559.4 L380.3 557.4 L385.3 551.4 L389.3 546.4 L387.3 540.4 L389.3 534.4 L394.3 527.4 L399.3 521.3 L404.3 517.3 L412.4 513.3 L420.4 509.3 L426.4 506.3 L428.4 500.3 L426.4 494.3 L430.4 490.2 L437.4 485.2 L444.5 487.2 L449.5 487.2 L452.5 490.2 L458.5 492.2 L462.5 492.2 L466.5 489.2 L470.5 486.2 L473.6 483.2 M417.4 536.4 L422.4 533.4 L427.4 535.4 L425.4 540.4 L420.4 541.4Z M432.4 532.4 L436.4 533.4 L435.4 535.4Z M403.3 543.4 L406.3 542.4 L405.9 545.4Z M473 483.2 L479.1 479.1 L484.1 477.1 L490.1 479.1 L495.1 483.2 L498.1 488.2 L501.1 494.2 L505.1 499.2 L510.2 503.2 L517.2 508.2 L524.2 513.2 L530.2 516.3 L535.2 519.3 L539.2 524.3 L544.3 528.3 L549.3 531.3 L554.3 535.3 L558.3 540.3 L560.3 546.3 L559.3 552.4 L557.3 557.4 L558.3 560.4 L562.3 558.4 L565.3 553.4 L568.3 548.4 L571.3 543.3 L569.3 539.3 L565.3 535.3 L564.3 530.3 L567.3 526.3 L572.3 524.3 L577.4 525.3 L581.4 529.3 L583.4 532.3 L582.4 528.3 L580.4 523.3 L576.3 520.3 L572.3 518.3 L566.3 516.3 L561.3 513.2 L557.3 510.2 L556.3 507.2 L550.3 505.2 L545.3 503.2 L540.2 499.2 L535.2 494.2 L531.2 489.2 L526.2 483.2 L521.2 479.1 L518.2 475.1 L517.2 469.1 L516.2 463.1 L520.2 460.1 L526.2 458.1 L530.2 460.1 L531.2 466.1 L534.2 469.1 L537.2 464.1 L541.2 466.1 L543.2 471.1 L547.3 477.1 L552.3 482.2 L558.3 486.2 L564.3 489.2 L570.3 493.2 L576.3 496.2 L581.4 498.2 L585.4 500.2 L590.4 505.2 L591.4 510.2 L590.4 516.3 L592.4 522.3 L596.4 526.3 L600.4 529.3 L603.4 531.3 L606.4 535.3 L609.4 539.3 L612.5 543.3 L616.5 547.4 L615.5 551.4 L617.5 557.4 L621.5 561.4 L623.5 568.4 L626.5 570.4 L627.5 564.4 L631.5 567.4 L634.5 572.4 L638.5 571.4 L636.5 566.4 L634.5 561.4 L639.5 560.4 L641.5 556.4 L636.5 554.4 L634.5 550.4 L640.5 549.4 L646.6 553.4 L645.6 548.4 L640.5 544.3 L634.5 542.3 L630.5 539.3 L634.5 538.3 L631.5 534.3 L632.5 530.3 L629.5 526.3 L627.5 521.3 L628.5 517.3 L632.5 515.3 L636.5 512.2 L642.5 509.2 L648.6 506.8 L654.6 505.8 L660 506 M529.2 447.1 L536.2 446 L544.3 444 L551.3 443 L554.3 441 L560.3 447.1 L568.3 452.1 L576.3 453.1 L580.4 451.1 L588.4 447.1 L593.4 448.1 L598.4 453.1 L603.4 456.1 L607.4 463.1 L614.5 463.1 L618.5 467.1 L620.5 472.1 L630.5 472.1 M530.2 460.1 L536.2 460.1 L540.2 456.1 L546.3 455.1 L548.3 450.1 L552.3 446 L554.3 441 M580.4 497.2 L577.4 494.2 L572.3 490.2 L566.3 485.2 L561.3 480.2 L556.3 475.1 L552.3 469.1 L550.3 464.1 L555.3 462.1 L562.3 462.1 L572.3 463.1 L580.4 464.1 L584.4 468.1 L586.4 474.1 L585.4 480.2 L587.4 483.2 L583.4 488.2 L581.4 494.2 L580.4 497.2 L585.4 500.2 L590.4 496.2 L593.4 494.2 L598.4 497.2 L601.4 502.2 L602.4 509.2 L605.4 515.3 L607.4 520.3 L604.4 525.3 L603.4 531.3 M587.4 483.2 L592.4 490.2 L593.4 494.2 M620.5 472.1 L618.5 478.1 L622.5 484.2 L620.5 490.2 L618.5 494.2 L624.5 496.2 L627.5 502.2 L625.5 508.2 L618.5 512.2 L611.5 514.3 L605.4 515.3 M602.4 509.2 L602.4 503.2 L605.4 498.2 L612.5 495.2 L618.5 494.2 M627.5 505.2 L634.5 504.2 M634.5 518.3 L639.5 520.3 L636.5 522.3 L640.5 524.3 L637.5 524.7 M618.5 550.4 L623.5 548.4 L630.5 547.4 L634.5 545.3 M523.2 561.4 L528.2 559.4 L535.2 561.4 L542.2 560.4 L549.3 558.4 L556.3 557.4 L555.9 561.4 L553.3 566.4 L554.3 573.4 L551.3 577.4 L546.3 578.4 L540.2 573.4 L533.2 570.4 L526.2 568.4 L522.2 564.4Z M675.1 446 L674.1 452 L675.1 460.1 L673.1 468.1 L670.1 475.1 L669.1 481.1 L673.1 487.1 L677.1 491.2 L682.2 494.2 L688.2 495.2 L696.2 494.2 L704.2 492.2 L710.2 489.1 L714.3 485.1 L720.3 480.1 L726.3 475.1 L734.3 472.1 L742.3 469.1 L745.3 468.1 L748.4 471.1 L754.4 470.1 L760.4 473.1 L768.4 470.1 L776.4 468.1 L784.5 466.1 L792.5 464.1 L798.5 461.1 L803.5 456 L807.5 451 M630 472.1 L638 470.1 L646 466.1 L654.1 463.1 L662.1 462.1 L674.1 462.5 M673.1 487.1 L668.1 489.1 L662.1 491.2 L660.1 494.2 L659.1 498.2 L658.1 504.2 L660.1 508.2 L665.1 507.2 L670.1 504.2 L678.1 502.2 L684.2 500.2 L688.2 498.2 M630 504.2 L638 501.2 L646 499.2 L654.1 498.2 L659.1 498.2 M688.2 495.2 L689.2 499.2 L694.2 500.2 L698.2 499.2 L692.2 502.2 L688.2 505.2 L690.2 507.2 L682.2 508.2 L676.1 508.2 L670.1 509.2 L665.1 512.2 L663.1 517.2 L665.1 522.2 L670.1 525.3 L673.1 530.3 L670.1 536.3 L675.1 538.3 L678.1 544.3 L682.2 549.3 L686.2 552.3 L683.2 555.3 L690.2 556.3 L694.2 553.3 L698.2 555.3 L704.2 558.4 L710.2 560.4 L716.3 559.4 L719.3 554.3 L721.3 549.3 L728.3 548.3 L736.3 549.3 L743.3 551.3 L748.4 548.3 L754.4 544.3 L760.4 538.3 L766.4 536.3 L771.4 534.3 L774.4 531.3 M660.1 508.2 L662.1 516.2 L667.1 510.2 L669.1 508.2 M743.3 566.4 L748.4 562.4 L755.4 559.4 L761.4 555.3 L765.4 552.3 L762.4 557.4 L763.4 561.4 L758.4 563.4 L753.4 568.4 L748.4 571.4Z M647.1 582.4 L650.1 580.4 L658.1 582.4 L668.1 581.4 L677.1 579.4 L678.1 583.4 L671.1 585.4 L662.1 588.4 L653.1 586.4 L648.1 586.4Z M630 530.3 L636 536.3 L633 542.3 L642 544.3 L646 549.3 L644 553.3 L638 549.3 L634 554.3 L640 558.4 L635 560.4 L639 570.4 L633 566.4 L630 572.4 M636 514.2 L639 517.2 L637 520.2 L640 523.2 M630 520.2 L634 523.2 L639 520.2 M760 427.1 L768 428.1 L776 430.2 L783.1 432.2 L794.1 436.2 L802.1 440.2 L806.1 446.2 L808.1 451.2 M783.1 432.2 L794.1 428.1 L806.1 426.1 L818.2 426.5 L823.2 427.1 L830.2 423.1 L840.2 422.1 L842.2 425.1 L850.3 426.1 L856.3 425.1 L860.3 427.1 L866.3 426.1 L869.3 418.1 M837.2 380 L836.2 386 L838.2 392 L846.3 396 L850.3 400.1 L851.3 406.1 L858.3 410.1 L866.3 415.1 L869.3 418.1 L878.4 421.1 L888.4 425.1 L891.4 430.2 L892.4 438.2 L891.4 444.2 L893.4 450.2 L898.4 457.2 L904.4 460.2 L910.5 461.2 M808.1 451.2 L814.2 448.2 L822.2 447.2 L829.2 444.2 L832.2 448.2 L834.2 454.2 L840.2 458.2 L847.3 460.2 L844.3 466.3 L848.3 472.3 L853.3 478.3 L858.3 484.3 L861.3 489.3 L868.3 496.3 L876.3 500.4 L884.4 501.4 L886.4 508.4 M832.2 448.2 L837.2 444.2 L841.2 440.2 L843.2 436.2 L850.3 435.2 L856.3 432.6 L855.3 428.1 L851.3 426.1 M841.2 440.2 L848.3 444.2 L854.3 449.2 L858.3 454.2 L865.3 453.2 L868.3 459.2 L864.3 463.2 L858.3 459.2 L854.3 460.2 L847.3 460.2 M854.3 460.2 L860.3 464.3 L869.3 462.2 L872.3 455.2 L876.3 448.2 L880.4 446.2 L885.4 451.2 L888.4 455.2 L893.4 456.2 L898.4 457.2 M860.3 476.3 L863.3 475.3 L867.3 480.3 L871.3 483.3 L869.3 486.3 L864.3 483.3 L861.3 479.3Z M826.2 508.4 L836.2 502.8 L840.2 498.4 L848.3 495.3 L856.3 494.3 L861.3 489.9 M774 533.1 L778 531.1 L780 537.1 L778 543.1 L781 550.2 L784 558.2 L783 566.2 L784 576.2 L783 582.2 L784 590.3 L782 598.3 L781 606.3 L780 609.3 L776 613.3 L770 616.3 M778 531.1 L782 530.1 L790.1 528.1 L798.1 524.1 L806.1 522.1 L816.1 517.1 L826.2 511 L834.2 505 L838.2 500 M782 530.1 L783 536.1 L780 539.1 M836.2 504 L832.2 514 L836.2 524.1 L840.2 536.1 L836.2 548.1 L830.2 557.2 L822.2 566.2 L814.1 576.2 L806.1 584.3 L800.1 587.3 L791.1 586.3 M784 558.2 L788.1 559.2 L792.1 562.2 L791.1 568.2 L787.1 572.2 L785 577.2 M787.1 572.2 L789.1 580.2 L790.1 586.3 L789.1 594.3 L792.1 600.3 L795.1 608.3 L796.1 616.3 L796.1 623.4 M788.1 599.3 L790.1 597.3 L791.7 602.3 L790.1 606.3Z M780 609.3 L785 616.3 L791.1 625.4 M822.2 566.2 L828.2 572.2 L832.2 577.2 L846.2 577.2 L860.3 578.2 L874.3 579.2 L882.3 580.2 L885.3 583.2 L890.4 581.2 L892.4 584.3 M832.2 577.2 L824.2 584.3 L816.1 591.3 L811.1 596.3 L818.1 600.3 L826.2 604.3 L824.2 612.3 L823.2 618.4 M885.3 500 L886.3 508 L885.3 516 L888.4 524.1 L894.4 530.1 L900.4 532.1 L902.4 535.1 L910.4 535.1 L918.4 536.1 L924.5 540.1 L928.5 546.1 L930.5 551.2 L934.5 550.2 L936.5 556.2 L942.5 558.2 L946.5 552.2 L950.5 550.2 L949.5 554.2 L956.6 552.2 L960.6 550.2 M920.5 559.2 L926.5 556.2 L930.5 556.2 L931.5 558.2 L924.5 559.2 L921.5 561.2Z M560 646 L566 649 L574 652 L584 653 L592 655 L599 658 L604 661 L609 662 L613 659 L616 654 L617 648 L615 642 L614 637 L617 631 L621 627 L627 624 L633 621.6 L639 621 L644 622.4 L648 625 L650 629 L655 629 L660 628.4 L666 628 L672 629 L675 633 L680 632.4 L688 631 L696 631 L704 631.6 L712 632.4 L720 632 L726 629 L731 626 L735 622 L739 619 L744 617 L750 616 L755 617 L759.4 618 M736 620 L741 618 L744 619.6 M672 629 L674 635 L673 640 L675 646 L674 654 M319 564 L325 571.5 L329.5 568.5 L340 565.5 L352 567 L362.5 568.5 L370 564 M280 605.4 L284.5 603 L295 598.5 L305.5 594 L311.5 585 L317.5 577.5 L325 573.6 L328 577.5 L334 583.5 L344.5 586.5 L350.5 585 L352 589.5 L361 591 L373 586.5 L383.5 582 L394 579 L406 577.5 L418 575.4 L430 576 L439 576.6 L446.5 579 L457 575.4 L469 576 L478 577.5 L484 573.6 L491.5 571.5 L497.5 574.5 L499 580.5 L503.5 577.5 L508 576 L506.5 582 L503.5 589.5 L506.5 597 L505 604.5 L499 612 L497.5 618 L503.5 622.5 L509.5 625.5 L512.5 630 L523 631.5 L535 633 L547 636 L556 640.5 L562 646.5 L568 650.4 L580 651.6 M361 591 L362.5 600 L361 612 L362.5 622.5 L365.5 628.5 L361 631.5 L352 633 L341.5 634.5 L334 636 L332.5 643.5 L322 646.5 L313 651 L310 653.4 M478 577.5 L476.5 588 L478 598.5 L475 607.5 L469 615 L467.5 621 L472 628.5 L476.5 636 L481 642 L484 651 L487 660 L488.5 670.5 M512.5 630 L509.5 637.5 L503.5 645 L497.5 652.5 L494.5 660 L493 669 M786.5 251.2 L789.1 259.1 L787.8 265.6 L793 269.5 L798.2 266.9 L796.9 274.7 L800.8 278.6 L804.7 272.1 L802.1 268.2 M799.5 286.4 L798.2 296.8 L800.8 295.5 M789.1 304.6 L791.7 307.2 L789.1 311.1 L791.7 319 L795.6 325.5 L798.2 324.2 L794.3 329.4 L793 339.8 L794.3 351.5 M782.6 346.3 L786.5 350.2 L785.2 358 L787.8 361.9 L782.6 365.8 L785.2 369.7 L779.9 372.3 L782.6 373.6 M819 300.7 L815.1 308.5 L812.5 316.4 L806 320.3 L807.3 326.8 L811.2 332 L809.9 339.8 L815.1 345 L819 348.9 L828.1 350.2 L837.2 351.5 L841.1 356.7 L846.4 355.4 L850 352.8 M841.1 356.7 L842.4 365.8 L837.2 374.9 L837.2 386.7 L843.8 394.5 L850 399.7 M280 604.5 L270 611.5 L262.5 624 L259 636.5 L256 646 M416.5 250.5 L418 252.5 L417 255 L418 258 L416.6 256 L416.2 253Z M384.2 220.5 L386 221.5 L385.8 224.5 L384.6 223.5Z M402.5 269.5 L404 268.5 L404.5 270.5 L403 271.5Z M459 450 L460.8 445.8 L463.2 441.6 L466.2 437.4 L468.6 434.4 L474 432.6 L478.8 432 L481.8 430.2 L486 431.4 L490.2 432.6 L492 435 L491.4 438.6 L493.2 440.4 L496.2 442.2 L498 441.6 L500.4 442.8 L499.8 445.8 L496.8 450 L496.2 448.2 L493.2 448.8 L490.8 448.2 L488.4 451.2 L486.6 455.4 L485.4 451.8 L481.8 448.2 L480.6 450.6 L478.2 448.8 L474 449.4 L469.8 450.6 L465.6 447.8 L462 448.8Z M492 435 L492.6 433.2 L496.8 434.4 L499.2 433.2 L503.4 432.6 L504.6 434.6 M500.4 442.8 L504 442.2 L507.6 441.6 L511.2 441 L515.4 439.8 L517.2 442.2 L519.6 444.6 L523.2 445.8 L528 447 L528.6 450.6 L528 454.2 L529.8 457.2 M465.6 447.8 L468 454.8 L467.4 457.8 L465 461.4 L463.8 465.6 L465.6 468 L466.8 472.8 L466.2 476.4 L469.2 478.8 M600.2 401.6 L605.8 403.7 L608.6 403.7 M600.2 413.5 L603.7 412.8 L605.8 414.2 L605.1 410 L605.8 406.5 L608.2 403.7 M605.8 414.2 L608.6 416.3 L611.4 417.7 L617 417 L622.6 417 L628.2 416.3 M611.4 417.7 L608.6 421.2 L605.8 425.4 L603.7 430.3 L602.3 435.2 L600.9 440.1 L598.8 442.9 L595.3 445 L591.8 446.4 M577.8 451.3 L579.9 455.5 L582.7 459 L584.1 461.5 M759.4 618 L763 616.5 L766.5 617.2 L770 616.3 M490.4 494.8 L490.9 497.7 L491.2 501.6 L490.9 505.5 L489.9 509.4 L488.9 513.3 L487.9 516.2 L486 515.3 L484 513.3 L483.1 510.4 L482.6 507.5 L481.6 504.5 L481.8 501.6 L483.1 500.1 L485.5 499.6 L488.4 498.7 L489.4 496.2Z M488.4 518.2 L490.9 519.7 L491.9 522.6 L493.3 525 L493.8 528.9 L492.8 532.9 L492.3 536.8 L491.9 540.7 L491.4 544.6 L490.9 546.5 L488.4 545.5 L486.5 545.1 L485 547.5 L484.5 549.5 L482.1 550.2 L479.6 549 L479.2 545.5 L479.6 541.6 L480.1 538.2 L479.2 534.8 L479.6 530.9 L478.7 527 L477.2 524.1 L477.2 522.1 L479.6 522.6 L482.6 521.6 L485.5 520.2Z" fill="none" stroke="#1c2532" stroke-opacity="0.85" stroke-width="0.78" stroke-linejoin="round" stroke-linecap="round"/>
<path d="M150 274 C155.8 274.3 171.2 275.2 184.5 275.8 C197.8 276.2 216.2 276.7 230 277 C243.8 277.3 255 277.6 267.5 277.5 C280 277.4 294.6 276.8 305 276.5 C315.4 276.2 321.7 275.5 330 275.5 C338.3 275.5 346.7 275.8 355 276.2 C363.3 276.8 372.5 277.3 380 278.5 C387.5 279.7 394 282.1 400 283.3 C406 284.5 410.7 284.4 416 285.7 C421.3 287 426.7 289.2 432 291.3 C437.3 293.4 442.7 296.1 448 298.5 C453.3 300.9 458.7 303.6 464 305.7 C469.3 307.8 474.7 309.3 480 311.3 C485.3 313.3 490.7 315.6 496 317.7 C501.3 319.8 506.7 321.9 512 324 C517.3 326.1 522.7 328.5 528 330.5 C533.3 332.5 538.7 334.1 544 336 C549.3 337.9 554 339.6 560 341.7 C566 343.8 572.5 345.7 580 348.8 C587.5 351.8 596.7 356 605 360 C613.3 364 621.7 368.1 630 372.5 C638.3 376.9 646.7 381.7 655 386.2 C663.3 390.8 672.5 396 680 400 C687.5 404 693.3 406.9 700 410 C706.7 413.1 714.2 416.5 720 418.8 C725.8 421 730.4 422.8 735 423.8 C739.6 424.7 743 425.6 747.5 424.5 C752 423.4 757.1 420.2 762 417 C766.9 413.8 772 409.5 777 405 C782 400.5 787.2 395.2 792 390 C796.8 384.8 801.8 379.3 806 373.5 C810.2 367.7 814.5 360.6 817.5 355 C820.5 349.4 822.2 345 823.8 340 C825.2 335 826.2 330 826.5 325 C826.8 320 826.2 314.8 825.5 310 C824.8 305.2 822.6 298.3 822 296" fill="none" stroke="#379648" stroke-width="1.1"/>
<path d="M788 414.5 C787.9 415.5 788.8 418 790 419 C791.2 420 793.2 420.6 795 420.5 C796.8 420.4 799.1 419.5 800.5 418.5 C801.9 417.5 803.4 415.7 803.5 414.5 C803.6 413.3 802.3 412 801 411.5 C799.7 411 797.2 411.2 795.5 411.5 C793.8 411.8 791.8 412.5 790.5 413 C789.2 413.5 788.1 413.5 788 414.5Z" fill="none" stroke="#379648" stroke-width="1.1"/>
<path d="M818.5 418 C818.4 419.2 818.8 421.4 819.5 422.5 C820.2 423.6 821.7 424.7 823 424.8 C824.3 424.9 826.3 424.1 827.5 423 C828.7 421.9 829.9 419.8 830 418.5 C830.1 417.2 829.1 415.7 828 415 C826.9 414.3 824.8 414.2 823.5 414.2 C822.2 414.2 820.8 414.6 820 415.2 C819.2 415.8 818.6 416.8 818.5 418Z" fill="none" stroke="#379648" stroke-width="1.1"/>
<path d="M852 419.5 C852 420.6 852.8 422 853.5 422.5 C854.2 423 855.8 422.9 856.5 422.3 C857.2 421.7 858 420.1 858 419 C858 417.9 857.2 416.5 856.5 416 C855.8 415.5 854.2 415.6 853.5 416.2 C852.8 416.8 852 418.4 852 419.5Z" fill="none" stroke="#379648" stroke-width="1.1"/>
</g>
<path d="M300.1 69.7 L306.1 73 L312.1 76.2 L318.2 79.2 L324.3 82.2 L330.5 85.1 L336.7 87.8 L343 90.5 L349.3 93 L355.6 95.4 L362 97.8 L368.5 100 L375 102.1 L381.5 104.1 L388 106 L394.6 107.7 L401.2 109.4 L407.8 111 L414.5 112.4 L421.1 113.7 L427.8 114.9 L434.6 116 L441.3 117 L448.1 117.9 L454.8 118.6 L461.6 119.3 L468.4 119.8 L475.2 120.2 L482 120.5 L488.8 120.6 L495.6 120.7 L502.4 120.6 L509.2 120.5 L516 120.2 L522.8 119.8 L529.6 119.3 L536.4 118.6 L543.1 117.9 L549.9 117 L556.6 116 L563.4 114.9 L570.1 113.7 L576.7 112.4 L583.4 111 L590 109.4 L596.6 107.7 L603.2 106 L609.7 104.1 L616.2 102.1 L622.7 100 L629.2 97.8 L635.6 95.4 L641.9 93 L648.2 90.5 L654.5 87.8 L660.7 85.1 L666.9 82.2 L673 79.2 L679.1 76.2 L685.1 73 L691.1 69.7 L960.6 551.6 L946.4 559.3 L932.1 566.9 L917.6 574.2 L903.1 581.2 L888.4 588 L873.5 594.6 L858.6 600.9 L843.6 606.9 L828.5 612.7 L813.3 618.2 L798 623.5 L782.6 628.5 L767.1 633.3 L751.5 637.8 L735.9 642 L720.2 645.9 L704.4 649.6 L688.6 653 L672.7 656.2 L656.8 659 L640.8 661.6 L624.7 664 L608.7 666 L592.6 667.8 L576.5 669.3 L560.3 670.6 L544.2 671.5 L528 672.2 L511.8 672.6 L495.6 672.8 L479.4 672.6 L463.2 672.2 L447 671.5 L430.9 670.6 L414.7 669.3 L398.6 667.8 L382.5 666 L366.5 664 L350.4 661.6 L334.4 659 L318.5 656.2 L302.6 653 L286.8 649.6 L271 645.9 L255.3 642 L239.7 637.8 L224.1 633.3 L208.6 628.5 L193.2 623.5 L177.9 618.2 L162.7 612.7 L147.6 606.9 L132.6 600.9 L117.7 594.6 L102.8 588 L88.1 581.2 L73.6 574.2 L59.1 566.9 L44.8 559.3 L30.6 551.6Z" fill="none" stroke="#555" stroke-width="0.95"/>
<path d="M300.1 69.7 L303.7 63.3 M30.6 551.6 L27 558 M346.1 91.8 L348.9 84.9 M140.1 603.9 L137.3 610.8 M394.6 107.7 L396.4 100.6 M255.3 642 L253.5 649.1 M444.7 117.4 L445.6 110.1 M374.5 665 L373.5 672.4 M495.6 120.7 L495.6 113.3 M495.6 672.8 L495.6 680.2 M546.5 117.4 L545.6 110.1 M616.7 665 L617.7 672.4 M596.6 107.7 L594.8 100.6 M735.9 642 L737.7 649.1 M645.1 91.8 L642.3 84.9 M851.1 603.9 L853.9 610.8 M691.1 69.7 L687.5 63.3 M960.6 551.6 L964.2 558 M30.6 551.6 L24.1 547.9 M960.6 551.6 L967.1 547.9 M97.8 431.5 L91.3 427.8 M893.4 431.5 L899.9 427.8 M163.6 313.7 L157.2 310.1 M827.6 313.7 L834 310.1 M230.2 194.7 L223.7 191.1 M761 194.7 L767.5 191.1 M300.1 69.7 L293.6 66.1 M691.1 69.7 L697.6 66.1" fill="none" stroke="#333" stroke-width="1.1"/>
<g font-family="Liberation Sans, Arial, sans-serif" font-size="10.4" fill="#111"><text x="307.2" y="57" transform="rotate(29.2 307.2 57)" text-anchor="middle">−30<tspan font-size="8" font-weight="bold" dy="-2">°</tspan></text><text x="19.1" y="572.1" transform="rotate(29.2 19.1 572.1)" text-anchor="middle">−30<tspan font-size="8" font-weight="bold" dy="-2">°</tspan></text><text x="351.6" y="78.2" transform="rotate(21.9 351.6 78.2)" text-anchor="middle">−20<tspan font-size="8" font-weight="bold" dy="-2">°</tspan></text><text x="131.3" y="625.7" transform="rotate(21.9 131.3 625.7)" text-anchor="middle">−20<tspan font-size="8" font-weight="bold" dy="-2">°</tspan></text><text x="398.3" y="93.6" transform="rotate(14.6 398.3 93.6)" text-anchor="middle">−10<tspan font-size="8" font-weight="bold" dy="-2">°</tspan></text><text x="249.4" y="664.7" transform="rotate(14.6 249.4 664.7)" text-anchor="middle">−10<tspan font-size="8" font-weight="bold" dy="-2">°</tspan></text><text x="446.5" y="103" transform="rotate(7.3 446.5 103)" text-anchor="middle">0<tspan font-size="8" font-weight="bold" dy="-2">°</tspan></text><text x="371.5" y="688.4" transform="rotate(7.3 371.5 688.4)" text-anchor="middle">0<tspan font-size="8" font-weight="bold" dy="-2">°</tspan></text><text x="495.6" y="106.1" transform="rotate(-0 495.6 106.1)" text-anchor="middle">10<tspan font-size="8" font-weight="bold" dy="-2">°</tspan></text><text x="495.6" y="696.3" transform="rotate(-0 495.6 696.3)" text-anchor="middle">10<tspan font-size="8" font-weight="bold" dy="-2">°</tspan></text><text x="544.7" y="103" transform="rotate(-7.3 544.7 103)" text-anchor="middle">20<tspan font-size="8" font-weight="bold" dy="-2">°</tspan></text><text x="619.7" y="688.4" transform="rotate(-7.3 619.7 688.4)" text-anchor="middle">20<tspan font-size="8" font-weight="bold" dy="-2">°</tspan></text><text x="592.9" y="93.6" transform="rotate(-14.6 592.9 93.6)" text-anchor="middle">30<tspan font-size="8" font-weight="bold" dy="-2">°</tspan></text><text x="741.8" y="664.7" transform="rotate(-14.6 741.8 664.7)" text-anchor="middle">30<tspan font-size="8" font-weight="bold" dy="-2">°</tspan></text><text x="639.6" y="78.2" transform="rotate(-21.9 639.6 78.2)" text-anchor="middle">40<tspan font-size="8" font-weight="bold" dy="-2">°</tspan></text><text x="859.9" y="625.7" transform="rotate(-21.9 859.9 625.7)" text-anchor="middle">40<tspan font-size="8" font-weight="bold" dy="-2">°</tspan></text><text x="684" y="57" transform="rotate(-29.2 684 57)" text-anchor="middle">50<tspan font-size="8" font-weight="bold" dy="-2">°</tspan></text><text x="972.1" y="572.1" transform="rotate(-29.2 972.1 572.1)" text-anchor="middle">50<tspan font-size="8" font-weight="bold" dy="-2">°</tspan></text><text x="9.1" y="543.8" transform="rotate(29.2 9.1 543.8)" text-anchor="middle">30<tspan font-size="8" font-weight="bold" dy="-2">°</tspan></text><text x="982.1" y="543.8" transform="rotate(-29.2 982.1 543.8)" text-anchor="middle">30<tspan font-size="8" font-weight="bold" dy="-2">°</tspan></text><text x="76.2" y="423.6" transform="rotate(29.2 76.2 423.6)" text-anchor="middle">40<tspan font-size="8" font-weight="bold" dy="-2">°</tspan></text><text x="915" y="423.6" transform="rotate(-29.2 915 423.6)" text-anchor="middle">40<tspan font-size="8" font-weight="bold" dy="-2">°</tspan></text><text x="142.1" y="305.9" transform="rotate(29.2 142.1 305.9)" text-anchor="middle">50<tspan font-size="8" font-weight="bold" dy="-2">°</tspan></text><text x="849.1" y="305.9" transform="rotate(-29.2 849.1 305.9)" text-anchor="middle">50<tspan font-size="8" font-weight="bold" dy="-2">°</tspan></text><text x="208.7" y="186.9" transform="rotate(29.2 208.7 186.9)" text-anchor="middle">60<tspan font-size="8" font-weight="bold" dy="-2">°</tspan></text><text x="782.5" y="186.9" transform="rotate(-29.2 782.5 186.9)" text-anchor="middle">60<tspan font-size="8" font-weight="bold" dy="-2">°</tspan></text><text x="278.6" y="61.9" transform="rotate(29.2 278.6 61.9)" text-anchor="middle">70<tspan font-size="8" font-weight="bold" dy="-2">°</tspan></text><text x="712.6" y="61.9" transform="rotate(-29.2 712.6 61.9)" text-anchor="middle">70<tspan font-size="8" font-weight="bold" dy="-2">°</tspan></text></g>
<g font-family="Liberation Sans, Arial, sans-serif" font-size="9" fill="#111" text-anchor="middle">
<text x="390.5" y="160.5" transform="rotate(25 390.5 160.5)">1000</text>
<text x="443" y="220.5" transform="rotate(0 443 220.5)">1005</text>
<text x="498" y="279.5" transform="rotate(24 498 279.5)">1010</text>
<text x="542.5" y="337" transform="rotate(19 542.5 337)">1015</text>
<text x="409.5" y="325" transform="rotate(12 409.5 325)">1020</text>
<text x="177.5" y="369" transform="rotate(2 177.5 369)">1025</text>
<text x="525.5" y="412.5" transform="rotate(56 525.5 412.5)">1025</text>
<text x="94.5" y="467.5" transform="rotate(13 94.5 467.5)">1025</text>
<text x="668.5" y="508.3" transform="rotate(3 668.5 508.3)">1020</text>
<text x="715" y="525" transform="rotate(-14 715 525)">1020</text>
<text x="876" y="484" transform="rotate(62 876 484)">1020</text>
</g>
<text x="236" y="450.5" font-family="Liberation Sans, DejaVu Sans, sans-serif" font-style="italic" font-size="22.8" fill="#7d0a17" textLength="180" lengthAdjust="spacingAndGlyphs">1025 à 1030 hPa</text>
<rect x="30" y="710" width="66.8" height="15" fill="#1e50f0"/>
<rect x="96.5" y="710" width="66.8" height="15" fill="#3c8cf5"/>
<rect x="163.1" y="710" width="66.8" height="15" fill="#55a5fa"/>
<rect x="229.6" y="710" width="66.8" height="15" fill="#78c3fc"/>
<rect x="296.2" y="710" width="66.8" height="15" fill="#a0dcff"/>
<rect x="362.7" y="710" width="66.8" height="15" fill="#c8ebfd"/>
<rect x="429.3" y="710" width="66.8" height="15" fill="#e1f0fa"/>
<rect x="495.8" y="710" width="66.8" height="15" fill="#f5e6eb"/>
<rect x="562.3" y="710" width="66.8" height="15" fill="#fcc8cd"/>
<rect x="628.9" y="710" width="66.8" height="15" fill="#fa9196"/>
<rect x="695.4" y="710" width="66.8" height="15" fill="#f55f69"/>
<rect x="762" y="710" width="66.8" height="15" fill="#f01e28"/>
<rect x="828.5" y="710" width="66.8" height="15" fill="#cd0000"/>
<rect x="895.1" y="710" width="66.8" height="15" fill="#8c0000"/>
<path d="M30 710 L21.6 717.5 L30 725Z" fill="#0c1f8f" stroke="#000" stroke-width="1.3" stroke-linejoin="miter"/>
<path d="M961.6 710 L969.8 717.5 L961.6 725Z" fill="#4a0606" stroke="#000" stroke-width="1.3"/>
<rect x="30" y="710" width="931.6" height="15" fill="none" stroke="#000" stroke-width="1.5"/>
<path d="M30 710 L30 732 M96.5 710 L96.5 732 M163.1 710 L163.1 732 M229.6 710 L229.6 732 M296.2 710 L296.2 732 M362.7 710 L362.7 732 M429.3 710 L429.3 732 M495.8 710 L495.8 732 M562.3 710 L562.3 732 M628.9 710 L628.9 732 M695.4 710 L695.4 732 M762 710 L762 732 M828.5 710 L828.5 732 M895.1 710 L895.1 732 M961.6 710 L961.6 732" stroke="#222" stroke-width="0.9" fill="none"/>
<g font-family="Liberation Sans, Arial, sans-serif" font-size="10.4" fill="#111" text-anchor="middle">
<text x="30.3" y="747.6">980</text>
<text x="96.8" y="747.6">985</text>
<text x="163.4" y="747.6">990</text>
<text x="229.9" y="747.6">995</text>
<text x="296.5" y="747.6">1000</text>
<text x="363" y="747.6">1005</text>
<text x="429.6" y="747.6">1010</text>
<text x="496.1" y="747.6">1015</text>
<text x="562.6" y="747.6">1020</text>
<text x="629.2" y="747.6">1025</text>
<text x="695.7" y="747.6">1030</text>
<text x="762.3" y="747.6">1035</text>
<text x="828.8" y="747.6">1040</text>
<text x="895.4" y="747.6">1045</text>
<text x="961.9" y="747.6">1050</text>
</g>
<text x="977" y="721.2" font-family="Liberation Sans, Arial, sans-serif" font-size="10.4" fill="#111">hPa</text>
<text x="32" y="762.6" font-family="Liberation Sans, Arial, sans-serif" font-size="8.4" fill="#111" textLength="174" lengthAdjust="spacingAndGlyphs">Carte produite le 01/02/2022 à 09h 02 UTC</text>
<text y="16.4" font-family="Liberation Sans, Arial, sans-serif" font-weight="bold" font-size="17.6" fill="#000"><tspan x="305.4">Pression</tspan><tspan x="385.8">mer</tspan><tspan x="425.6">–</tspan><tspan x="442.2">Moyenne</tspan><tspan x="526.8">mensuelle</tspan><tspan x="621.4">01/2022</tspan></text>
<text y="32.6" font-family="Liberation Sans, Arial, sans-serif" font-weight="bold" font-size="12.9" fill="#000"><tspan x="370.0">Analyse</tspan><tspan x="424.9">ECMWF</tspan><tspan x="477.8">–</tspan><tspan x="489.8">réf.</tspan><tspan x="513.8">ERA5</tspan><tspan x="554.2">1981–2010</tspan></text>
<rect x="22.8" y="9" width="63" height="63.2" fill="#0b58d6"/>
<rect x="46" y="20.6" width="17" height="16.8" fill="#fff"/>
<circle cx="54.4" cy="29" r="6.3" fill="#0b58d6"/>
<ellipse cx="56.6" cy="29" rx="3.9" ry="5.6" fill="#fff"/>
<path d="M54.9 22.6 V35.4 M58.8 24 A6.3 6.3 0 0 1 58.8 34" stroke="#0b58d6" stroke-width="0.7" fill="none"/>
<g font-family="Liberation Sans, Arial, sans-serif" font-weight="bold" font-size="10.2" fill="#fff" stroke="#fff" stroke-width="0.35"><text x="34.5" y="50.4" textLength="39.6" lengthAdjust="spacingAndGlyphs">METEO</text><text x="34.5" y="60.7" textLength="39.6" lengthAdjust="spacingAndGlyphs">FRANCE</text></g>
</svg>
</body></html>
